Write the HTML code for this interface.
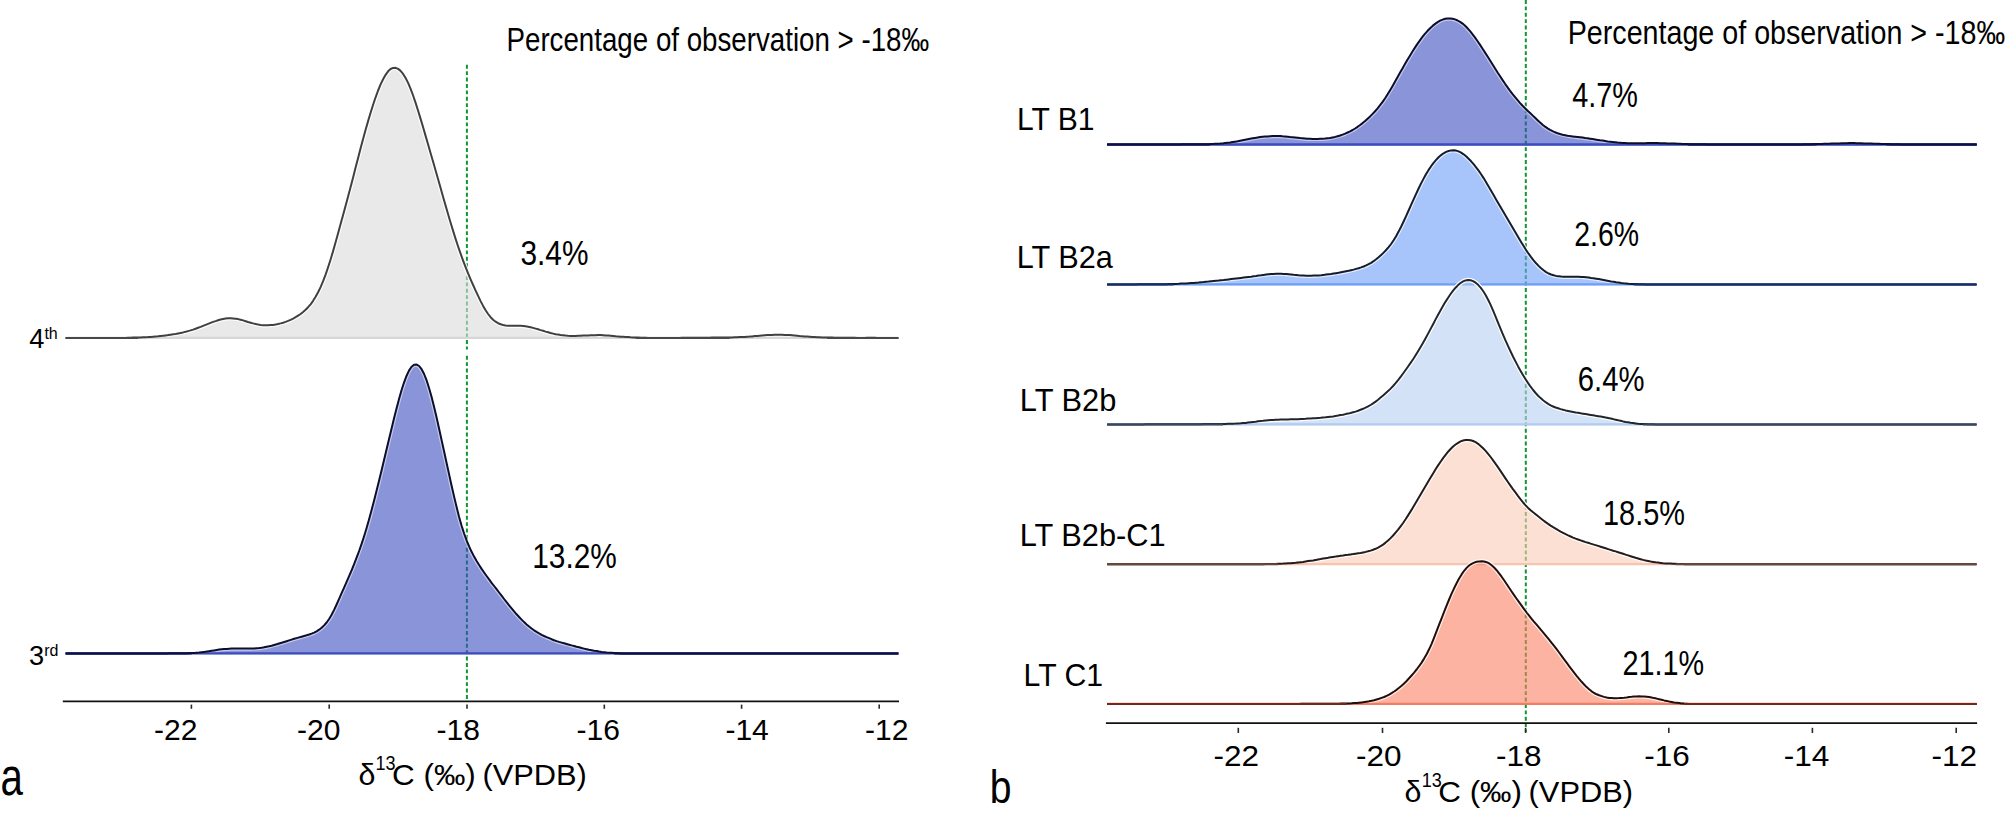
<!DOCTYPE html>
<html lang="en"><head><meta charset="utf-8"><title>Figure</title>
<style>html,body{margin:0;padding:0;background:#fff}body{width:2007px;height:814px;overflow:hidden}svg{display:block}text{font-family:"Liberation Sans",Arial,sans-serif;fill:#000}</style></head><body>
<svg width="2007" height="814" viewBox="0 0 2007 814">
<rect width="2007" height="814" fill="#fff"/>
<line x1="466.9" y1="64.8" x2="466.9" y2="349.6" stroke="#0e962f" stroke-width="2.0" stroke-dasharray="3.9,2.5"/>
<line x1="466.9" y1="355.8" x2="466.9" y2="701" stroke="#0e962f" stroke-width="2.0" stroke-dasharray="3.9,2.5"/>
<line x1="1525.8" y1="0" x2="1525.8" y2="732" stroke="#0e962f" stroke-width="2.0" stroke-dasharray="3.9,2.5"/>
<g id="c4">
<path d="M65.6,337.9L77.6,337.9L89.6,337.9L101.6,337.9L113.6,337.9L125.6,337.9L128.1,337.8L130.6,337.7L133.1,337.6L135.6,337.6L138.1,337.5L140.6,337.4L143.1,337.3L145.6,337.2L148.1,337.1L150.6,336.9L153.1,336.7L155.6,336.5L158.1,336.3L160.6,336.0L163.1,335.7L165.6,335.4L168.1,335.1L170.6,334.7L173.1,334.3L175.6,333.9L178.1,333.4L180.6,332.9L183.1,332.4L185.6,331.8L188.1,331.1L190.6,330.4L193.1,329.6L195.6,328.7L198.1,327.8L200.6,326.9L203.1,325.9L205.6,324.9L208.1,323.9L210.6,322.9L213.1,321.9L215.6,321.1L218.1,320.2L220.6,319.5L223.1,319.0L225.6,318.6L228.1,318.3L230.6,318.3L233.1,318.4L235.6,318.7L238.1,319.1L240.6,319.7L243.1,320.4L245.6,321.2L248.1,322.0L250.6,322.7L253.1,323.4L255.6,324.0L258.1,324.5L260.6,324.9L263.1,325.2L265.6,325.3L268.1,325.3L270.6,325.1L273.1,324.9L275.6,324.5L278.1,324.0L280.6,323.4L283.1,322.7L285.6,321.9L288.1,320.9L290.6,319.8L293.1,318.6L295.6,317.2L298.1,315.7L300.6,314.0L303.1,312.0L305.6,309.8L308.1,307.2L310.6,304.3L313.1,300.8L315.6,296.8L318.1,292.3L320.6,287.1L323.1,281.2L325.6,274.6L328.1,267.3L330.6,259.5L333.1,251.1L335.6,242.3L338.1,233.3L340.6,224.1L343.1,214.9L345.6,205.7L348.1,196.4L350.6,187.0L353.1,177.4L355.6,167.6L358.1,157.9L360.6,148.3L363.1,138.9L365.6,129.8L368.1,121.1L370.6,112.7L373.1,104.7L375.6,97.3L378.1,90.5L380.6,84.4L383.1,79.2L385.6,74.8L388.1,71.3L390.6,69.0L393.1,67.9L395.6,67.8L398.1,68.9L400.6,70.9L403.1,73.9L405.6,78.0L408.1,82.9L410.6,88.8L413.1,95.5L415.6,102.9L418.1,110.7L420.6,118.9L423.1,127.3L425.6,135.9L428.1,144.5L430.6,153.2L433.1,161.8L435.6,170.5L438.1,179.3L440.6,188.1L443.1,196.9L445.6,205.6L448.1,214.3L450.6,222.7L453.1,230.9L455.6,238.9L458.1,246.5L460.6,253.7L463.1,260.6L465.6,267.2L468.1,273.4L470.6,279.3L473.1,285.0L475.6,290.6L478.1,295.9L480.6,301.1L483.1,305.9L485.6,310.3L488.1,314.0L490.6,317.2L493.1,319.7L495.6,321.7L498.1,323.2L500.6,324.2L503.1,325.0L505.6,325.4L508.1,325.7L510.6,325.8L513.1,325.8L515.6,325.8L518.1,325.8L520.6,325.8L523.1,326.0L525.6,326.3L528.1,326.7L530.6,327.2L533.1,327.9L535.6,328.6L538.1,329.3L540.6,330.1L543.1,330.8L545.6,331.6L548.1,332.3L550.6,333.0L553.1,333.6L555.6,334.2L558.1,334.6L560.6,335.0L563.1,335.3L565.6,335.6L568.1,335.8L570.6,335.9L573.1,335.9L575.6,335.9L578.1,335.8L580.6,335.7L583.1,335.6L585.6,335.5L588.1,335.4L590.6,335.3L593.1,335.2L595.6,335.2L598.1,335.1L600.6,335.1L603.1,335.2L605.6,335.4L608.1,335.6L610.6,335.8L613.1,336.0L615.6,336.3L618.1,336.5L620.6,336.7L623.1,336.8L625.6,337.0L628.1,337.1L630.6,337.3L633.1,337.4L635.6,337.5L638.1,337.6L640.6,337.7L643.1,337.7L645.6,337.8L648.1,337.9L660.1,337.9L672.1,337.9L674.6,337.9L677.1,337.9L679.6,337.9L682.1,337.8L684.6,337.8L687.1,337.8L689.6,337.8L692.1,337.8L694.6,337.7L697.1,337.7L699.6,337.7L702.1,337.7L704.6,337.7L707.1,337.7L709.6,337.7L712.1,337.6L714.6,337.6L717.1,337.6L719.6,337.6L722.1,337.6L724.6,337.6L727.1,337.5L729.6,337.5L732.1,337.4L734.6,337.3L737.1,337.2L739.6,337.1L742.1,337.0L744.6,336.9L747.1,336.7L749.6,336.6L752.1,336.4L754.6,336.1L757.1,335.9L759.6,335.7L762.1,335.5L764.6,335.3L767.1,335.1L769.6,335.0L772.1,334.9L774.6,334.8L777.1,334.8L779.6,334.8L782.1,334.8L784.6,334.9L787.1,335.0L789.6,335.1L792.1,335.3L794.6,335.5L797.1,335.7L799.6,336.0L802.1,336.2L804.6,336.4L807.1,336.6L809.6,336.8L812.1,337.0L814.6,337.1L817.1,337.2L819.6,337.3L822.1,337.4L824.6,337.4L827.1,337.5L829.6,337.6L832.1,337.6L834.6,337.7L837.1,337.7L839.6,337.7L842.1,337.7L844.6,337.7L847.1,337.7L849.6,337.8L852.1,337.8L854.6,337.8L857.1,337.9L859.6,337.9L862.1,337.9L864.6,337.9L867.1,337.8L869.6,337.8L872.1,337.8L874.6,337.8L877.1,337.9L889.1,337.9L898.4,337.9L898.4,338.8L65.6,338.8Z" fill="#dadada" fill-opacity="0.60"/>
<path d="M65.6,337.9L77.6,337.9L89.6,337.9L101.6,337.9L113.6,337.9L125.6,337.9L128.1,337.8L130.6,337.7L133.1,337.6L135.6,337.6L138.1,337.5L140.6,337.4L143.1,337.3L145.6,337.2L148.1,337.1L150.6,336.9L153.1,336.7L155.6,336.5L158.1,336.3L160.6,336.0L163.1,335.7L165.6,335.4L168.1,335.1L170.6,334.7L173.1,334.3L175.6,333.9L178.1,333.4L180.6,332.9L183.1,332.4L185.6,331.8L188.1,331.1L190.6,330.4L193.1,329.6L195.6,328.7L198.1,327.8L200.6,326.9L203.1,325.9L205.6,324.9L208.1,323.9L210.6,322.9L213.1,321.9L215.6,321.1L218.1,320.2L220.6,319.5L223.1,319.0L225.6,318.6L228.1,318.3L230.6,318.3L233.1,318.4L235.6,318.7L238.1,319.1L240.6,319.7L243.1,320.4L245.6,321.2L248.1,322.0L250.6,322.7L253.1,323.4L255.6,324.0L258.1,324.5L260.6,324.9L263.1,325.2L265.6,325.3L268.1,325.3L270.6,325.1L273.1,324.9L275.6,324.5L278.1,324.0L280.6,323.4L283.1,322.7L285.6,321.9L288.1,320.9L290.6,319.8L293.1,318.6L295.6,317.2L298.1,315.7L300.6,314.0L303.1,312.0L305.6,309.8L308.1,307.2L310.6,304.3L313.1,300.8L315.6,296.8L318.1,292.3L320.6,287.1L323.1,281.2L325.6,274.6L328.1,267.3L330.6,259.5L333.1,251.1L335.6,242.3L338.1,233.3L340.6,224.1L343.1,214.9L345.6,205.7L348.1,196.4L350.6,187.0L353.1,177.4L355.6,167.6L358.1,157.9L360.6,148.3L363.1,138.9L365.6,129.8L368.1,121.1L370.6,112.7L373.1,104.7L375.6,97.3L378.1,90.5L380.6,84.4L383.1,79.2L385.6,74.8L388.1,71.3L390.6,69.0L393.1,67.9L395.6,67.8L398.1,68.9L400.6,70.9L403.1,73.9L405.6,78.0L408.1,82.9L410.6,88.8L413.1,95.5L415.6,102.9L418.1,110.7L420.6,118.9L423.1,127.3L425.6,135.9L428.1,144.5L430.6,153.2L433.1,161.8L435.6,170.5L438.1,179.3L440.6,188.1L443.1,196.9L445.6,205.6L448.1,214.3L450.6,222.7L453.1,230.9L455.6,238.9L458.1,246.5L460.6,253.7L463.1,260.6L465.6,267.2L468.1,273.4L470.6,279.3L473.1,285.0L475.6,290.6L478.1,295.9L480.6,301.1L483.1,305.9L485.6,310.3L488.1,314.0L490.6,317.2L493.1,319.7L495.6,321.7L498.1,323.2L500.6,324.2L503.1,325.0L505.6,325.4L508.1,325.7L510.6,325.8L513.1,325.8L515.6,325.8L518.1,325.8L520.6,325.8L523.1,326.0L525.6,326.3L528.1,326.7L530.6,327.2L533.1,327.9L535.6,328.6L538.1,329.3L540.6,330.1L543.1,330.8L545.6,331.6L548.1,332.3L550.6,333.0L553.1,333.6L555.6,334.2L558.1,334.6L560.6,335.0L563.1,335.3L565.6,335.6L568.1,335.8L570.6,335.9L573.1,335.9L575.6,335.9L578.1,335.8L580.6,335.7L583.1,335.6L585.6,335.5L588.1,335.4L590.6,335.3L593.1,335.2L595.6,335.2L598.1,335.1L600.6,335.1L603.1,335.2L605.6,335.4L608.1,335.6L610.6,335.8L613.1,336.0L615.6,336.3L618.1,336.5L620.6,336.7L623.1,336.8L625.6,337.0L628.1,337.1L630.6,337.3L633.1,337.4L635.6,337.5L638.1,337.6L640.6,337.7L643.1,337.7L645.6,337.8L648.1,337.9L660.1,337.9L672.1,337.9L674.6,337.9L677.1,337.9L679.6,337.9L682.1,337.8L684.6,337.8L687.1,337.8L689.6,337.8L692.1,337.8L694.6,337.7L697.1,337.7L699.6,337.7L702.1,337.7L704.6,337.7L707.1,337.7L709.6,337.7L712.1,337.6L714.6,337.6L717.1,337.6L719.6,337.6L722.1,337.6L724.6,337.6L727.1,337.5L729.6,337.5L732.1,337.4L734.6,337.3L737.1,337.2L739.6,337.1L742.1,337.0L744.6,336.9L747.1,336.7L749.6,336.6L752.1,336.4L754.6,336.1L757.1,335.9L759.6,335.7L762.1,335.5L764.6,335.3L767.1,335.1L769.6,335.0L772.1,334.9L774.6,334.8L777.1,334.8L779.6,334.8L782.1,334.8L784.6,334.9L787.1,335.0L789.6,335.1L792.1,335.3L794.6,335.5L797.1,335.7L799.6,336.0L802.1,336.2L804.6,336.4L807.1,336.6L809.6,336.8L812.1,337.0L814.6,337.1L817.1,337.2L819.6,337.3L822.1,337.4L824.6,337.4L827.1,337.5L829.6,337.6L832.1,337.6L834.6,337.7L837.1,337.7L839.6,337.7L842.1,337.7L844.6,337.7L847.1,337.7L849.6,337.8L852.1,337.8L854.6,337.8L857.1,337.9L859.6,337.9L862.1,337.9L864.6,337.9L867.1,337.8L869.6,337.8L872.1,337.8L874.6,337.8L877.1,337.9L889.1,337.9L898.4,337.9" fill="none" stroke="#fff" stroke-opacity="0.90" stroke-width="4.4" stroke-linejoin="round"/>
<line x1="65.6" y1="337.9" x2="898.4" y2="337.9" stroke="#d8d8d8" stroke-width="2.3"/>
<path d="M65.6,337.9L77.6,337.9L89.6,337.9L101.6,337.9L113.6,337.9L125.6,337.9L128.1,337.8L130.6,337.7L133.1,337.6L135.6,337.6L138.1,337.5L140.6,337.4L143.1,337.3L145.6,337.2L148.1,337.1L150.6,336.9L153.1,336.7L155.6,336.5L158.1,336.3L160.6,336.0L163.1,335.7L165.6,335.4L168.1,335.1L170.6,334.7L173.1,334.3L175.6,333.9L178.1,333.4L180.6,332.9L183.1,332.4L185.6,331.8L188.1,331.1L190.6,330.4L193.1,329.6L195.6,328.7L198.1,327.8L200.6,326.9L203.1,325.9L205.6,324.9L208.1,323.9L210.6,322.9L213.1,321.9L215.6,321.1L218.1,320.2L220.6,319.5L223.1,319.0L225.6,318.6L228.1,318.3L230.6,318.3L233.1,318.4L235.6,318.7L238.1,319.1L240.6,319.7L243.1,320.4L245.6,321.2L248.1,322.0L250.6,322.7L253.1,323.4L255.6,324.0L258.1,324.5L260.6,324.9L263.1,325.2L265.6,325.3L268.1,325.3L270.6,325.1L273.1,324.9L275.6,324.5L278.1,324.0L280.6,323.4L283.1,322.7L285.6,321.9L288.1,320.9L290.6,319.8L293.1,318.6L295.6,317.2L298.1,315.7L300.6,314.0L303.1,312.0L305.6,309.8L308.1,307.2L310.6,304.3L313.1,300.8L315.6,296.8L318.1,292.3L320.6,287.1L323.1,281.2L325.6,274.6L328.1,267.3L330.6,259.5L333.1,251.1L335.6,242.3L338.1,233.3L340.6,224.1L343.1,214.9L345.6,205.7L348.1,196.4L350.6,187.0L353.1,177.4L355.6,167.6L358.1,157.9L360.6,148.3L363.1,138.9L365.6,129.8L368.1,121.1L370.6,112.7L373.1,104.7L375.6,97.3L378.1,90.5L380.6,84.4L383.1,79.2L385.6,74.8L388.1,71.3L390.6,69.0L393.1,67.9L395.6,67.8L398.1,68.9L400.6,70.9L403.1,73.9L405.6,78.0L408.1,82.9L410.6,88.8L413.1,95.5L415.6,102.9L418.1,110.7L420.6,118.9L423.1,127.3L425.6,135.9L428.1,144.5L430.6,153.2L433.1,161.8L435.6,170.5L438.1,179.3L440.6,188.1L443.1,196.9L445.6,205.6L448.1,214.3L450.6,222.7L453.1,230.9L455.6,238.9L458.1,246.5L460.6,253.7L463.1,260.6L465.6,267.2L468.1,273.4L470.6,279.3L473.1,285.0L475.6,290.6L478.1,295.9L480.6,301.1L483.1,305.9L485.6,310.3L488.1,314.0L490.6,317.2L493.1,319.7L495.6,321.7L498.1,323.2L500.6,324.2L503.1,325.0L505.6,325.4L508.1,325.7L510.6,325.8L513.1,325.8L515.6,325.8L518.1,325.8L520.6,325.8L523.1,326.0L525.6,326.3L528.1,326.7L530.6,327.2L533.1,327.9L535.6,328.6L538.1,329.3L540.6,330.1L543.1,330.8L545.6,331.6L548.1,332.3L550.6,333.0L553.1,333.6L555.6,334.2L558.1,334.6L560.6,335.0L563.1,335.3L565.6,335.6L568.1,335.8L570.6,335.9L573.1,335.9L575.6,335.9L578.1,335.8L580.6,335.7L583.1,335.6L585.6,335.5L588.1,335.4L590.6,335.3L593.1,335.2L595.6,335.2L598.1,335.1L600.6,335.1L603.1,335.2L605.6,335.4L608.1,335.6L610.6,335.8L613.1,336.0L615.6,336.3L618.1,336.5L620.6,336.7L623.1,336.8L625.6,337.0L628.1,337.1L630.6,337.3L633.1,337.4L635.6,337.5L638.1,337.6L640.6,337.7L643.1,337.7L645.6,337.8L648.1,337.9L660.1,337.9L672.1,337.9L674.6,337.9L677.1,337.9L679.6,337.9L682.1,337.8L684.6,337.8L687.1,337.8L689.6,337.8L692.1,337.8L694.6,337.7L697.1,337.7L699.6,337.7L702.1,337.7L704.6,337.7L707.1,337.7L709.6,337.7L712.1,337.6L714.6,337.6L717.1,337.6L719.6,337.6L722.1,337.6L724.6,337.6L727.1,337.5L729.6,337.5L732.1,337.4L734.6,337.3L737.1,337.2L739.6,337.1L742.1,337.0L744.6,336.9L747.1,336.7L749.6,336.6L752.1,336.4L754.6,336.1L757.1,335.9L759.6,335.7L762.1,335.5L764.6,335.3L767.1,335.1L769.6,335.0L772.1,334.9L774.6,334.8L777.1,334.8L779.6,334.8L782.1,334.8L784.6,334.9L787.1,335.0L789.6,335.1L792.1,335.3L794.6,335.5L797.1,335.7L799.6,336.0L802.1,336.2L804.6,336.4L807.1,336.6L809.6,336.8L812.1,337.0L814.6,337.1L817.1,337.2L819.6,337.3L822.1,337.4L824.6,337.4L827.1,337.5L829.6,337.6L832.1,337.6L834.6,337.7L837.1,337.7L839.6,337.7L842.1,337.7L844.6,337.7L847.1,337.7L849.6,337.8L852.1,337.8L854.6,337.8L857.1,337.9L859.6,337.9L862.1,337.9L864.6,337.9L867.1,337.8L869.6,337.8L872.1,337.8L874.6,337.8L877.1,337.9L889.1,337.9L898.4,337.9" fill="none" stroke="#404040" stroke-width="2.0" stroke-linejoin="round"/>
<line x1="65.6" y1="337.9" x2="138.1" y2="337.9" stroke="#484848" stroke-width="2.0"/>
<line x1="635.6" y1="337.9" x2="729.6" y2="337.9" stroke="#484848" stroke-width="2.0"/>
<line x1="827.1" y1="337.9" x2="898.4" y2="337.9" stroke="#484848" stroke-width="2.0"/>
</g>
<g id="c3">
<path d="M65.6,653.4L77.6,653.4L89.6,653.4L101.6,653.4L113.6,653.4L125.6,653.4L137.6,653.4L149.6,653.4L161.6,653.4L164.1,653.4L166.6,653.4L169.1,653.3L171.6,653.3L174.1,653.3L176.6,653.3L179.1,653.2L181.6,653.2L184.1,653.2L186.6,653.2L189.1,653.1L191.6,653.0L194.1,652.9L196.6,652.7L199.1,652.5L201.6,652.2L204.1,651.9L206.6,651.6L209.1,651.2L211.6,650.8L214.1,650.4L216.6,650.0L219.1,649.6L221.6,649.3L224.1,649.1L226.6,648.9L229.1,648.7L231.6,648.6L234.1,648.6L236.6,648.6L239.1,648.6L241.6,648.6L244.1,648.6L246.6,648.6L249.1,648.6L251.6,648.5L254.1,648.4L256.6,648.2L259.1,648.0L261.6,647.7L264.1,647.3L266.6,646.8L269.1,646.3L271.6,645.7L274.1,645.0L276.6,644.3L279.1,643.5L281.6,642.8L284.1,642.0L286.6,641.2L289.1,640.4L291.6,639.6L294.1,638.8L296.6,638.1L299.1,637.4L301.6,636.7L304.1,636.0L306.6,635.3L309.1,634.5L311.6,633.6L314.1,632.6L316.6,631.3L319.1,629.7L321.6,627.8L324.1,625.4L326.6,622.5L329.1,619.0L331.6,614.8L334.1,609.9L336.6,604.5L339.1,598.9L341.6,593.2L344.1,587.6L346.6,581.9L349.1,576.2L351.6,570.3L354.1,564.1L356.6,557.7L359.1,551.0L361.6,543.8L364.1,536.2L366.6,528.0L369.1,519.3L371.6,510.1L374.1,500.5L376.6,490.6L379.1,480.5L381.6,470.2L384.1,459.8L386.6,449.3L389.1,438.8L391.6,428.4L394.1,418.1L396.6,408.2L399.1,398.8L401.6,390.0L404.1,382.3L406.6,375.7L409.1,370.4L411.6,366.7L414.1,364.8L416.6,364.5L419.1,366.0L421.6,369.2L424.1,374.0L426.6,380.4L429.1,388.2L431.6,397.1L434.1,407.0L436.6,417.6L439.1,428.7L441.6,440.1L444.1,451.5L446.6,463.0L449.1,474.4L451.6,485.7L454.1,496.6L456.6,507.1L459.1,516.9L461.6,525.7L464.1,533.5L466.6,540.4L469.1,546.4L471.6,551.8L474.1,556.6L476.6,561.0L479.1,565.0L481.6,568.9L484.1,572.5L486.6,576.0L489.1,579.4L491.6,582.8L494.1,586.0L496.6,589.2L499.1,592.5L501.6,595.7L504.1,599.0L506.6,602.2L509.1,605.3L511.6,608.4L514.1,611.4L516.6,614.3L519.1,617.0L521.6,619.6L524.1,622.1L526.6,624.4L529.1,626.5L531.6,628.5L534.1,630.3L536.6,631.9L539.1,633.4L541.6,634.8L544.1,636.0L546.6,637.1L549.1,638.1L551.6,639.2L554.1,640.2L556.6,641.1L559.1,641.9L561.6,642.6L564.1,643.3L566.6,644.0L569.1,644.7L571.6,645.4L574.1,646.0L576.6,646.7L579.1,647.3L581.6,648.0L584.1,648.6L586.6,649.2L589.1,649.8L591.6,650.2L594.1,650.7L596.6,651.1L599.1,651.6L601.6,652.0L604.1,652.3L606.6,652.6L609.1,652.7L611.6,652.8L614.1,653.0L616.6,653.1L619.1,653.2L621.6,653.4L633.6,653.4L645.6,653.4L657.6,653.4L669.6,653.4L681.6,653.4L693.6,653.4L705.6,653.4L717.6,653.4L729.6,653.4L741.6,653.4L753.6,653.4L765.6,653.4L777.6,653.4L789.6,653.4L801.6,653.4L813.6,653.4L825.6,653.4L837.6,653.4L849.6,653.4L861.6,653.4L873.6,653.4L885.6,653.4L897.6,653.4L898.4,653.4L898.4,654.3L65.6,654.3Z" fill="#3b4cc0" fill-opacity="0.60"/>
<path d="M65.6,653.4L77.6,653.4L89.6,653.4L101.6,653.4L113.6,653.4L125.6,653.4L137.6,653.4L149.6,653.4L161.6,653.4L164.1,653.4L166.6,653.4L169.1,653.3L171.6,653.3L174.1,653.3L176.6,653.3L179.1,653.2L181.6,653.2L184.1,653.2L186.6,653.2L189.1,653.1L191.6,653.0L194.1,652.9L196.6,652.7L199.1,652.5L201.6,652.2L204.1,651.9L206.6,651.6L209.1,651.2L211.6,650.8L214.1,650.4L216.6,650.0L219.1,649.6L221.6,649.3L224.1,649.1L226.6,648.9L229.1,648.7L231.6,648.6L234.1,648.6L236.6,648.6L239.1,648.6L241.6,648.6L244.1,648.6L246.6,648.6L249.1,648.6L251.6,648.5L254.1,648.4L256.6,648.2L259.1,648.0L261.6,647.7L264.1,647.3L266.6,646.8L269.1,646.3L271.6,645.7L274.1,645.0L276.6,644.3L279.1,643.5L281.6,642.8L284.1,642.0L286.6,641.2L289.1,640.4L291.6,639.6L294.1,638.8L296.6,638.1L299.1,637.4L301.6,636.7L304.1,636.0L306.6,635.3L309.1,634.5L311.6,633.6L314.1,632.6L316.6,631.3L319.1,629.7L321.6,627.8L324.1,625.4L326.6,622.5L329.1,619.0L331.6,614.8L334.1,609.9L336.6,604.5L339.1,598.9L341.6,593.2L344.1,587.6L346.6,581.9L349.1,576.2L351.6,570.3L354.1,564.1L356.6,557.7L359.1,551.0L361.6,543.8L364.1,536.2L366.6,528.0L369.1,519.3L371.6,510.1L374.1,500.5L376.6,490.6L379.1,480.5L381.6,470.2L384.1,459.8L386.6,449.3L389.1,438.8L391.6,428.4L394.1,418.1L396.6,408.2L399.1,398.8L401.6,390.0L404.1,382.3L406.6,375.7L409.1,370.4L411.6,366.7L414.1,364.8L416.6,364.5L419.1,366.0L421.6,369.2L424.1,374.0L426.6,380.4L429.1,388.2L431.6,397.1L434.1,407.0L436.6,417.6L439.1,428.7L441.6,440.1L444.1,451.5L446.6,463.0L449.1,474.4L451.6,485.7L454.1,496.6L456.6,507.1L459.1,516.9L461.6,525.7L464.1,533.5L466.6,540.4L469.1,546.4L471.6,551.8L474.1,556.6L476.6,561.0L479.1,565.0L481.6,568.9L484.1,572.5L486.6,576.0L489.1,579.4L491.6,582.8L494.1,586.0L496.6,589.2L499.1,592.5L501.6,595.7L504.1,599.0L506.6,602.2L509.1,605.3L511.6,608.4L514.1,611.4L516.6,614.3L519.1,617.0L521.6,619.6L524.1,622.1L526.6,624.4L529.1,626.5L531.6,628.5L534.1,630.3L536.6,631.9L539.1,633.4L541.6,634.8L544.1,636.0L546.6,637.1L549.1,638.1L551.6,639.2L554.1,640.2L556.6,641.1L559.1,641.9L561.6,642.6L564.1,643.3L566.6,644.0L569.1,644.7L571.6,645.4L574.1,646.0L576.6,646.7L579.1,647.3L581.6,648.0L584.1,648.6L586.6,649.2L589.1,649.8L591.6,650.2L594.1,650.7L596.6,651.1L599.1,651.6L601.6,652.0L604.1,652.3L606.6,652.6L609.1,652.7L611.6,652.8L614.1,653.0L616.6,653.1L619.1,653.2L621.6,653.4L633.6,653.4L645.6,653.4L657.6,653.4L669.6,653.4L681.6,653.4L693.6,653.4L705.6,653.4L717.6,653.4L729.6,653.4L741.6,653.4L753.6,653.4L765.6,653.4L777.6,653.4L789.6,653.4L801.6,653.4L813.6,653.4L825.6,653.4L837.6,653.4L849.6,653.4L861.6,653.4L873.6,653.4L885.6,653.4L897.6,653.4L898.4,653.4" fill="none" stroke="#fff" stroke-opacity="0.50" stroke-width="4.4" stroke-linejoin="round"/>
<line x1="65.6" y1="653.4" x2="898.4" y2="653.4" stroke="#3b4cc0" stroke-width="2.3"/>
<path d="M65.6,653.4L77.6,653.4L89.6,653.4L101.6,653.4L113.6,653.4L125.6,653.4L137.6,653.4L149.6,653.4L161.6,653.4L164.1,653.4L166.6,653.4L169.1,653.3L171.6,653.3L174.1,653.3L176.6,653.3L179.1,653.2L181.6,653.2L184.1,653.2L186.6,653.2L189.1,653.1L191.6,653.0L194.1,652.9L196.6,652.7L199.1,652.5L201.6,652.2L204.1,651.9L206.6,651.6L209.1,651.2L211.6,650.8L214.1,650.4L216.6,650.0L219.1,649.6L221.6,649.3L224.1,649.1L226.6,648.9L229.1,648.7L231.6,648.6L234.1,648.6L236.6,648.6L239.1,648.6L241.6,648.6L244.1,648.6L246.6,648.6L249.1,648.6L251.6,648.5L254.1,648.4L256.6,648.2L259.1,648.0L261.6,647.7L264.1,647.3L266.6,646.8L269.1,646.3L271.6,645.7L274.1,645.0L276.6,644.3L279.1,643.5L281.6,642.8L284.1,642.0L286.6,641.2L289.1,640.4L291.6,639.6L294.1,638.8L296.6,638.1L299.1,637.4L301.6,636.7L304.1,636.0L306.6,635.3L309.1,634.5L311.6,633.6L314.1,632.6L316.6,631.3L319.1,629.7L321.6,627.8L324.1,625.4L326.6,622.5L329.1,619.0L331.6,614.8L334.1,609.9L336.6,604.5L339.1,598.9L341.6,593.2L344.1,587.6L346.6,581.9L349.1,576.2L351.6,570.3L354.1,564.1L356.6,557.7L359.1,551.0L361.6,543.8L364.1,536.2L366.6,528.0L369.1,519.3L371.6,510.1L374.1,500.5L376.6,490.6L379.1,480.5L381.6,470.2L384.1,459.8L386.6,449.3L389.1,438.8L391.6,428.4L394.1,418.1L396.6,408.2L399.1,398.8L401.6,390.0L404.1,382.3L406.6,375.7L409.1,370.4L411.6,366.7L414.1,364.8L416.6,364.5L419.1,366.0L421.6,369.2L424.1,374.0L426.6,380.4L429.1,388.2L431.6,397.1L434.1,407.0L436.6,417.6L439.1,428.7L441.6,440.1L444.1,451.5L446.6,463.0L449.1,474.4L451.6,485.7L454.1,496.6L456.6,507.1L459.1,516.9L461.6,525.7L464.1,533.5L466.6,540.4L469.1,546.4L471.6,551.8L474.1,556.6L476.6,561.0L479.1,565.0L481.6,568.9L484.1,572.5L486.6,576.0L489.1,579.4L491.6,582.8L494.1,586.0L496.6,589.2L499.1,592.5L501.6,595.7L504.1,599.0L506.6,602.2L509.1,605.3L511.6,608.4L514.1,611.4L516.6,614.3L519.1,617.0L521.6,619.6L524.1,622.1L526.6,624.4L529.1,626.5L531.6,628.5L534.1,630.3L536.6,631.9L539.1,633.4L541.6,634.8L544.1,636.0L546.6,637.1L549.1,638.1L551.6,639.2L554.1,640.2L556.6,641.1L559.1,641.9L561.6,642.6L564.1,643.3L566.6,644.0L569.1,644.7L571.6,645.4L574.1,646.0L576.6,646.7L579.1,647.3L581.6,648.0L584.1,648.6L586.6,649.2L589.1,649.8L591.6,650.2L594.1,650.7L596.6,651.1L599.1,651.6L601.6,652.0L604.1,652.3L606.6,652.6L609.1,652.7L611.6,652.8L614.1,653.0L616.6,653.1L619.1,653.2L621.6,653.4L633.6,653.4L645.6,653.4L657.6,653.4L669.6,653.4L681.6,653.4L693.6,653.4L705.6,653.4L717.6,653.4L729.6,653.4L741.6,653.4L753.6,653.4L765.6,653.4L777.6,653.4L789.6,653.4L801.6,653.4L813.6,653.4L825.6,653.4L837.6,653.4L849.6,653.4L861.6,653.4L873.6,653.4L885.6,653.4L897.6,653.4L898.4,653.4" fill="none" stroke="#0c0e2a" stroke-width="2.0" stroke-linejoin="round"/>
<line x1="65.6" y1="653.4" x2="191.6" y2="653.4" stroke="#0c1048" stroke-width="2.0"/>
<line x1="614.1" y1="653.4" x2="898.4" y2="653.4" stroke="#0c1048" stroke-width="2.0"/>
</g>
<g id="b1">
<path d="M1107.1,144.5L1119.1,144.5L1131.1,144.5L1143.1,144.5L1155.1,144.5L1157.6,144.4L1160.1,144.4L1162.6,144.4L1165.1,144.4L1167.6,144.4L1170.1,144.4L1172.6,144.4L1175.1,144.4L1177.6,144.4L1180.1,144.4L1182.6,144.3L1185.1,144.3L1187.6,144.3L1190.1,144.3L1192.6,144.3L1195.1,144.3L1197.6,144.3L1200.1,144.3L1202.6,144.3L1205.1,144.3L1207.6,144.2L1210.1,144.1L1212.6,143.9L1215.1,143.8L1217.6,143.7L1220.1,143.6L1222.6,143.4L1225.1,143.1L1227.6,142.8L1230.1,142.5L1232.6,142.1L1235.1,141.7L1237.6,141.3L1240.1,140.8L1242.6,140.3L1245.1,139.8L1247.6,139.3L1250.1,138.8L1252.6,138.3L1255.1,137.9L1257.6,137.5L1260.1,137.1L1262.6,136.8L1265.1,136.6L1267.6,136.4L1270.1,136.2L1272.6,136.1L1275.1,136.0L1277.6,136.0L1280.1,136.1L1282.6,136.3L1285.1,136.4L1287.6,136.7L1290.1,137.0L1292.6,137.2L1295.1,137.5L1297.6,137.8L1300.1,138.1L1302.6,138.3L1305.1,138.5L1307.6,138.7L1310.1,138.8L1312.6,138.9L1315.1,138.9L1317.6,138.9L1320.1,138.8L1322.6,138.7L1325.1,138.5L1327.6,138.2L1330.1,137.9L1332.6,137.4L1335.1,136.9L1337.6,136.2L1340.1,135.5L1342.6,134.6L1345.1,133.6L1347.6,132.5L1350.1,131.3L1352.6,130.0L1355.1,128.5L1357.6,126.8L1360.1,125.0L1362.6,123.1L1365.1,121.0L1367.6,118.7L1370.1,116.4L1372.6,113.9L1375.1,111.2L1377.6,108.4L1380.1,105.2L1382.6,101.9L1385.1,98.2L1387.6,94.3L1390.1,90.2L1392.6,85.9L1395.1,81.5L1397.6,77.1L1400.1,72.6L1402.6,68.2L1405.1,63.8L1407.6,59.6L1410.1,55.4L1412.6,51.3L1415.1,47.4L1417.6,43.6L1420.1,40.1L1422.6,36.7L1425.1,33.6L1427.6,30.8L1430.1,28.2L1432.6,25.9L1435.1,23.9L1437.6,22.1L1440.1,20.7L1442.6,19.6L1445.1,18.8L1447.6,18.5L1450.1,18.4L1452.6,18.8L1455.1,19.4L1457.6,20.5L1460.1,21.9L1462.6,23.6L1465.1,25.8L1467.6,28.3L1470.1,31.2L1472.6,34.3L1475.1,37.6L1477.6,41.2L1480.1,44.9L1482.6,48.7L1485.1,52.6L1487.6,56.5L1490.1,60.5L1492.6,64.5L1495.1,68.5L1497.6,72.5L1500.1,76.3L1502.6,80.1L1505.1,83.8L1507.6,87.3L1510.1,90.8L1512.6,94.1L1515.1,97.2L1517.6,100.2L1520.1,103.1L1522.6,105.8L1525.1,108.3L1527.6,110.7L1530.1,113.0L1532.6,115.4L1535.1,117.8L1537.6,120.2L1540.1,122.5L1542.6,124.7L1545.1,126.7L1547.6,128.4L1550.1,129.9L1552.6,131.2L1555.1,132.3L1557.6,133.2L1560.1,134.0L1562.6,134.7L1565.1,135.2L1567.6,135.7L1570.1,136.1L1572.6,136.4L1575.1,136.7L1577.6,137.0L1580.1,137.3L1582.6,137.6L1585.1,138.0L1587.6,138.3L1590.1,138.7L1592.6,139.1L1595.1,139.5L1597.6,139.9L1600.1,140.3L1602.6,140.6L1605.1,141.0L1607.6,141.4L1610.1,141.7L1612.6,142.0L1615.1,142.3L1617.6,142.6L1620.1,142.8L1622.6,143.0L1625.1,143.1L1627.6,143.2L1630.1,143.3L1632.6,143.3L1635.1,143.3L1637.6,143.3L1640.1,143.3L1642.6,143.2L1645.1,143.2L1647.6,143.1L1650.1,143.1L1652.6,143.1L1655.1,143.1L1657.6,143.1L1660.1,143.2L1662.6,143.2L1665.1,143.3L1667.6,143.4L1670.1,143.4L1672.6,143.5L1675.1,143.6L1677.6,143.7L1680.1,143.8L1682.6,143.9L1685.1,144.0L1687.6,144.1L1690.1,144.2L1692.6,144.2L1695.1,144.2L1697.6,144.2L1700.1,144.3L1702.6,144.3L1705.1,144.3L1707.6,144.4L1710.1,144.4L1712.6,144.5L1724.6,144.5L1736.6,144.5L1748.6,144.5L1760.6,144.5L1772.6,144.5L1784.6,144.5L1796.6,144.5L1799.1,144.5L1801.6,144.4L1804.1,144.3L1806.6,144.3L1809.1,144.2L1811.6,144.2L1814.1,144.1L1816.6,144.1L1819.1,144.0L1821.6,143.9L1824.1,143.8L1826.6,143.8L1829.1,143.7L1831.6,143.6L1834.1,143.5L1836.6,143.5L1839.1,143.4L1841.6,143.3L1844.1,143.3L1846.6,143.2L1849.1,143.1L1851.6,143.1L1854.1,143.1L1856.6,143.2L1859.1,143.3L1861.6,143.3L1864.1,143.4L1866.6,143.5L1869.1,143.5L1871.6,143.6L1874.1,143.7L1876.6,143.8L1879.1,143.8L1881.6,143.9L1884.1,144.0L1886.6,144.1L1889.1,144.1L1891.6,144.2L1894.1,144.2L1896.6,144.3L1899.1,144.3L1901.6,144.4L1904.1,144.5L1916.1,144.5L1928.1,144.5L1940.1,144.5L1952.1,144.5L1964.1,144.5L1976.1,144.5L1976.7,144.5L1976.7,145.4L1107.1,145.4Z" fill="#3b4cc0" fill-opacity="0.60"/>
<path d="M1107.1,144.5L1119.1,144.5L1131.1,144.5L1143.1,144.5L1155.1,144.5L1157.6,144.4L1160.1,144.4L1162.6,144.4L1165.1,144.4L1167.6,144.4L1170.1,144.4L1172.6,144.4L1175.1,144.4L1177.6,144.4L1180.1,144.4L1182.6,144.3L1185.1,144.3L1187.6,144.3L1190.1,144.3L1192.6,144.3L1195.1,144.3L1197.6,144.3L1200.1,144.3L1202.6,144.3L1205.1,144.3L1207.6,144.2L1210.1,144.1L1212.6,143.9L1215.1,143.8L1217.6,143.7L1220.1,143.6L1222.6,143.4L1225.1,143.1L1227.6,142.8L1230.1,142.5L1232.6,142.1L1235.1,141.7L1237.6,141.3L1240.1,140.8L1242.6,140.3L1245.1,139.8L1247.6,139.3L1250.1,138.8L1252.6,138.3L1255.1,137.9L1257.6,137.5L1260.1,137.1L1262.6,136.8L1265.1,136.6L1267.6,136.4L1270.1,136.2L1272.6,136.1L1275.1,136.0L1277.6,136.0L1280.1,136.1L1282.6,136.3L1285.1,136.4L1287.6,136.7L1290.1,137.0L1292.6,137.2L1295.1,137.5L1297.6,137.8L1300.1,138.1L1302.6,138.3L1305.1,138.5L1307.6,138.7L1310.1,138.8L1312.6,138.9L1315.1,138.9L1317.6,138.9L1320.1,138.8L1322.6,138.7L1325.1,138.5L1327.6,138.2L1330.1,137.9L1332.6,137.4L1335.1,136.9L1337.6,136.2L1340.1,135.5L1342.6,134.6L1345.1,133.6L1347.6,132.5L1350.1,131.3L1352.6,130.0L1355.1,128.5L1357.6,126.8L1360.1,125.0L1362.6,123.1L1365.1,121.0L1367.6,118.7L1370.1,116.4L1372.6,113.9L1375.1,111.2L1377.6,108.4L1380.1,105.2L1382.6,101.9L1385.1,98.2L1387.6,94.3L1390.1,90.2L1392.6,85.9L1395.1,81.5L1397.6,77.1L1400.1,72.6L1402.6,68.2L1405.1,63.8L1407.6,59.6L1410.1,55.4L1412.6,51.3L1415.1,47.4L1417.6,43.6L1420.1,40.1L1422.6,36.7L1425.1,33.6L1427.6,30.8L1430.1,28.2L1432.6,25.9L1435.1,23.9L1437.6,22.1L1440.1,20.7L1442.6,19.6L1445.1,18.8L1447.6,18.5L1450.1,18.4L1452.6,18.8L1455.1,19.4L1457.6,20.5L1460.1,21.9L1462.6,23.6L1465.1,25.8L1467.6,28.3L1470.1,31.2L1472.6,34.3L1475.1,37.6L1477.6,41.2L1480.1,44.9L1482.6,48.7L1485.1,52.6L1487.6,56.5L1490.1,60.5L1492.6,64.5L1495.1,68.5L1497.6,72.5L1500.1,76.3L1502.6,80.1L1505.1,83.8L1507.6,87.3L1510.1,90.8L1512.6,94.1L1515.1,97.2L1517.6,100.2L1520.1,103.1L1522.6,105.8L1525.1,108.3L1527.6,110.7L1530.1,113.0L1532.6,115.4L1535.1,117.8L1537.6,120.2L1540.1,122.5L1542.6,124.7L1545.1,126.7L1547.6,128.4L1550.1,129.9L1552.6,131.2L1555.1,132.3L1557.6,133.2L1560.1,134.0L1562.6,134.7L1565.1,135.2L1567.6,135.7L1570.1,136.1L1572.6,136.4L1575.1,136.7L1577.6,137.0L1580.1,137.3L1582.6,137.6L1585.1,138.0L1587.6,138.3L1590.1,138.7L1592.6,139.1L1595.1,139.5L1597.6,139.9L1600.1,140.3L1602.6,140.6L1605.1,141.0L1607.6,141.4L1610.1,141.7L1612.6,142.0L1615.1,142.3L1617.6,142.6L1620.1,142.8L1622.6,143.0L1625.1,143.1L1627.6,143.2L1630.1,143.3L1632.6,143.3L1635.1,143.3L1637.6,143.3L1640.1,143.3L1642.6,143.2L1645.1,143.2L1647.6,143.1L1650.1,143.1L1652.6,143.1L1655.1,143.1L1657.6,143.1L1660.1,143.2L1662.6,143.2L1665.1,143.3L1667.6,143.4L1670.1,143.4L1672.6,143.5L1675.1,143.6L1677.6,143.7L1680.1,143.8L1682.6,143.9L1685.1,144.0L1687.6,144.1L1690.1,144.2L1692.6,144.2L1695.1,144.2L1697.6,144.2L1700.1,144.3L1702.6,144.3L1705.1,144.3L1707.6,144.4L1710.1,144.4L1712.6,144.5L1724.6,144.5L1736.6,144.5L1748.6,144.5L1760.6,144.5L1772.6,144.5L1784.6,144.5L1796.6,144.5L1799.1,144.5L1801.6,144.4L1804.1,144.3L1806.6,144.3L1809.1,144.2L1811.6,144.2L1814.1,144.1L1816.6,144.1L1819.1,144.0L1821.6,143.9L1824.1,143.8L1826.6,143.8L1829.1,143.7L1831.6,143.6L1834.1,143.5L1836.6,143.5L1839.1,143.4L1841.6,143.3L1844.1,143.3L1846.6,143.2L1849.1,143.1L1851.6,143.1L1854.1,143.1L1856.6,143.2L1859.1,143.3L1861.6,143.3L1864.1,143.4L1866.6,143.5L1869.1,143.5L1871.6,143.6L1874.1,143.7L1876.6,143.8L1879.1,143.8L1881.6,143.9L1884.1,144.0L1886.6,144.1L1889.1,144.1L1891.6,144.2L1894.1,144.2L1896.6,144.3L1899.1,144.3L1901.6,144.4L1904.1,144.5L1916.1,144.5L1928.1,144.5L1940.1,144.5L1952.1,144.5L1964.1,144.5L1976.1,144.5L1976.7,144.5" fill="none" stroke="#fff" stroke-opacity="0.50" stroke-width="4.4" stroke-linejoin="round"/>
<line x1="1107.1" y1="144.5" x2="1976.7" y2="144.5" stroke="#3b4cc0" stroke-width="2.3"/>
<path d="M1107.1,144.5L1119.1,144.5L1131.1,144.5L1143.1,144.5L1155.1,144.5L1157.6,144.4L1160.1,144.4L1162.6,144.4L1165.1,144.4L1167.6,144.4L1170.1,144.4L1172.6,144.4L1175.1,144.4L1177.6,144.4L1180.1,144.4L1182.6,144.3L1185.1,144.3L1187.6,144.3L1190.1,144.3L1192.6,144.3L1195.1,144.3L1197.6,144.3L1200.1,144.3L1202.6,144.3L1205.1,144.3L1207.6,144.2L1210.1,144.1L1212.6,143.9L1215.1,143.8L1217.6,143.7L1220.1,143.6L1222.6,143.4L1225.1,143.1L1227.6,142.8L1230.1,142.5L1232.6,142.1L1235.1,141.7L1237.6,141.3L1240.1,140.8L1242.6,140.3L1245.1,139.8L1247.6,139.3L1250.1,138.8L1252.6,138.3L1255.1,137.9L1257.6,137.5L1260.1,137.1L1262.6,136.8L1265.1,136.6L1267.6,136.4L1270.1,136.2L1272.6,136.1L1275.1,136.0L1277.6,136.0L1280.1,136.1L1282.6,136.3L1285.1,136.4L1287.6,136.7L1290.1,137.0L1292.6,137.2L1295.1,137.5L1297.6,137.8L1300.1,138.1L1302.6,138.3L1305.1,138.5L1307.6,138.7L1310.1,138.8L1312.6,138.9L1315.1,138.9L1317.6,138.9L1320.1,138.8L1322.6,138.7L1325.1,138.5L1327.6,138.2L1330.1,137.9L1332.6,137.4L1335.1,136.9L1337.6,136.2L1340.1,135.5L1342.6,134.6L1345.1,133.6L1347.6,132.5L1350.1,131.3L1352.6,130.0L1355.1,128.5L1357.6,126.8L1360.1,125.0L1362.6,123.1L1365.1,121.0L1367.6,118.7L1370.1,116.4L1372.6,113.9L1375.1,111.2L1377.6,108.4L1380.1,105.2L1382.6,101.9L1385.1,98.2L1387.6,94.3L1390.1,90.2L1392.6,85.9L1395.1,81.5L1397.6,77.1L1400.1,72.6L1402.6,68.2L1405.1,63.8L1407.6,59.6L1410.1,55.4L1412.6,51.3L1415.1,47.4L1417.6,43.6L1420.1,40.1L1422.6,36.7L1425.1,33.6L1427.6,30.8L1430.1,28.2L1432.6,25.9L1435.1,23.9L1437.6,22.1L1440.1,20.7L1442.6,19.6L1445.1,18.8L1447.6,18.5L1450.1,18.4L1452.6,18.8L1455.1,19.4L1457.6,20.5L1460.1,21.9L1462.6,23.6L1465.1,25.8L1467.6,28.3L1470.1,31.2L1472.6,34.3L1475.1,37.6L1477.6,41.2L1480.1,44.9L1482.6,48.7L1485.1,52.6L1487.6,56.5L1490.1,60.5L1492.6,64.5L1495.1,68.5L1497.6,72.5L1500.1,76.3L1502.6,80.1L1505.1,83.8L1507.6,87.3L1510.1,90.8L1512.6,94.1L1515.1,97.2L1517.6,100.2L1520.1,103.1L1522.6,105.8L1525.1,108.3L1527.6,110.7L1530.1,113.0L1532.6,115.4L1535.1,117.8L1537.6,120.2L1540.1,122.5L1542.6,124.7L1545.1,126.7L1547.6,128.4L1550.1,129.9L1552.6,131.2L1555.1,132.3L1557.6,133.2L1560.1,134.0L1562.6,134.7L1565.1,135.2L1567.6,135.7L1570.1,136.1L1572.6,136.4L1575.1,136.7L1577.6,137.0L1580.1,137.3L1582.6,137.6L1585.1,138.0L1587.6,138.3L1590.1,138.7L1592.6,139.1L1595.1,139.5L1597.6,139.9L1600.1,140.3L1602.6,140.6L1605.1,141.0L1607.6,141.4L1610.1,141.7L1612.6,142.0L1615.1,142.3L1617.6,142.6L1620.1,142.8L1622.6,143.0L1625.1,143.1L1627.6,143.2L1630.1,143.3L1632.6,143.3L1635.1,143.3L1637.6,143.3L1640.1,143.3L1642.6,143.2L1645.1,143.2L1647.6,143.1L1650.1,143.1L1652.6,143.1L1655.1,143.1L1657.6,143.1L1660.1,143.2L1662.6,143.2L1665.1,143.3L1667.6,143.4L1670.1,143.4L1672.6,143.5L1675.1,143.6L1677.6,143.7L1680.1,143.8L1682.6,143.9L1685.1,144.0L1687.6,144.1L1690.1,144.2L1692.6,144.2L1695.1,144.2L1697.6,144.2L1700.1,144.3L1702.6,144.3L1705.1,144.3L1707.6,144.4L1710.1,144.4L1712.6,144.5L1724.6,144.5L1736.6,144.5L1748.6,144.5L1760.6,144.5L1772.6,144.5L1784.6,144.5L1796.6,144.5L1799.1,144.5L1801.6,144.4L1804.1,144.3L1806.6,144.3L1809.1,144.2L1811.6,144.2L1814.1,144.1L1816.6,144.1L1819.1,144.0L1821.6,143.9L1824.1,143.8L1826.6,143.8L1829.1,143.7L1831.6,143.6L1834.1,143.5L1836.6,143.5L1839.1,143.4L1841.6,143.3L1844.1,143.3L1846.6,143.2L1849.1,143.1L1851.6,143.1L1854.1,143.1L1856.6,143.2L1859.1,143.3L1861.6,143.3L1864.1,143.4L1866.6,143.5L1869.1,143.5L1871.6,143.6L1874.1,143.7L1876.6,143.8L1879.1,143.8L1881.6,143.9L1884.1,144.0L1886.6,144.1L1889.1,144.1L1891.6,144.2L1894.1,144.2L1896.6,144.3L1899.1,144.3L1901.6,144.4L1904.1,144.5L1916.1,144.5L1928.1,144.5L1940.1,144.5L1952.1,144.5L1964.1,144.5L1976.1,144.5L1976.7,144.5" fill="none" stroke="#0c0e2a" stroke-width="2.0" stroke-linejoin="round"/>
<line x1="1107.1" y1="144.5" x2="1210.1" y2="144.5" stroke="#0c1048" stroke-width="2.0"/>
<line x1="1687.6" y1="144.5" x2="1816.6" y2="144.5" stroke="#0c1048" stroke-width="2.0"/>
<line x1="1886.6" y1="144.5" x2="1976.7" y2="144.5" stroke="#0c1048" stroke-width="2.0"/>
</g>
<g id="b2a">
<path d="M1107.1,284.4L1119.1,284.4L1131.1,284.4L1133.6,284.4L1136.1,284.4L1138.6,284.3L1141.1,284.3L1143.6,284.3L1146.1,284.3L1148.6,284.3L1151.1,284.3L1153.6,284.2L1156.1,284.2L1158.6,284.2L1161.1,284.2L1163.6,284.2L1166.1,284.2L1168.6,284.1L1171.1,284.1L1173.6,284.0L1176.1,283.9L1178.6,283.8L1181.1,283.6L1183.6,283.5L1186.1,283.4L1188.6,283.2L1191.1,283.0L1193.6,282.9L1196.1,282.7L1198.6,282.5L1201.1,282.2L1203.6,282.0L1206.1,281.7L1208.6,281.5L1211.1,281.2L1213.6,280.9L1216.1,280.7L1218.6,280.5L1221.1,280.2L1223.6,280.0L1226.1,279.7L1228.6,279.4L1231.1,279.1L1233.6,278.8L1236.1,278.5L1238.6,278.2L1241.1,277.9L1243.6,277.6L1246.1,277.3L1248.6,277.0L1251.1,276.7L1253.6,276.3L1256.1,276.0L1258.6,275.6L1261.1,275.3L1263.6,274.9L1266.1,274.6L1268.6,274.3L1271.1,274.1L1273.6,273.9L1276.1,273.8L1278.6,273.8L1281.1,273.8L1283.6,273.9L1286.1,274.0L1288.6,274.2L1291.1,274.5L1293.6,274.8L1296.1,275.0L1298.6,275.3L1301.1,275.5L1303.6,275.6L1306.1,275.7L1308.6,275.7L1311.1,275.7L1313.6,275.6L1316.1,275.5L1318.6,275.4L1321.1,275.2L1323.6,274.9L1326.1,274.6L1328.6,274.3L1331.1,274.0L1333.6,273.6L1336.1,273.2L1338.6,272.8L1341.1,272.3L1343.6,271.8L1346.1,271.3L1348.6,270.8L1351.1,270.2L1353.6,269.6L1356.1,268.9L1358.6,268.2L1361.1,267.4L1363.6,266.5L1366.1,265.4L1368.6,264.2L1371.1,262.8L1373.6,261.2L1376.1,259.3L1378.6,257.2L1381.1,255.0L1383.6,252.6L1386.1,250.0L1388.6,247.2L1391.1,244.0L1393.6,240.3L1396.1,236.2L1398.6,231.6L1401.1,226.7L1403.6,221.5L1406.1,216.1L1408.6,210.5L1411.1,204.9L1413.6,199.3L1416.1,193.9L1418.6,188.5L1421.1,183.4L1423.6,178.6L1426.1,174.0L1428.6,169.9L1431.1,166.2L1433.6,162.8L1436.1,159.9L1438.6,157.3L1441.1,155.1L1443.6,153.3L1446.1,151.9L1448.6,151.0L1451.1,150.4L1453.6,150.3L1456.1,150.6L1458.6,151.4L1461.1,152.6L1463.6,154.3L1466.1,156.3L1468.6,158.7L1471.1,161.3L1473.6,164.2L1476.1,167.3L1478.6,170.6L1481.1,174.2L1483.6,178.1L1486.1,182.2L1488.6,186.4L1491.1,190.7L1493.6,195.1L1496.1,199.4L1498.6,203.7L1501.1,208.0L1503.6,212.3L1506.1,216.5L1508.6,220.8L1511.1,225.0L1513.6,229.3L1516.1,233.5L1518.6,237.8L1521.1,242.0L1523.6,246.0L1526.1,250.0L1528.6,253.7L1531.1,257.1L1533.6,260.3L1536.1,263.3L1538.6,265.9L1541.1,268.3L1543.6,270.3L1546.1,272.1L1548.6,273.5L1551.1,274.5L1553.6,275.3L1556.1,275.9L1558.6,276.2L1561.1,276.5L1563.6,276.7L1566.1,276.8L1568.6,276.8L1571.1,276.8L1573.6,276.8L1576.1,276.8L1578.6,276.8L1581.1,276.9L1583.6,277.1L1586.1,277.3L1588.6,277.6L1591.1,278.0L1593.6,278.3L1596.1,278.7L1598.6,279.1L1601.1,279.5L1603.6,279.9L1606.1,280.4L1608.6,280.9L1611.1,281.4L1613.6,281.8L1616.1,282.3L1618.6,282.6L1621.1,283.0L1623.6,283.3L1626.1,283.5L1628.6,283.8L1631.1,283.9L1633.6,284.1L1636.1,284.1L1638.6,284.2L1641.1,284.2L1643.6,284.3L1646.1,284.4L1658.1,284.4L1670.1,284.4L1682.1,284.4L1694.1,284.4L1706.1,284.4L1718.1,284.4L1730.1,284.4L1742.1,284.4L1754.1,284.4L1766.1,284.4L1778.1,284.4L1790.1,284.4L1802.1,284.4L1814.1,284.4L1826.1,284.4L1838.1,284.4L1850.1,284.4L1862.1,284.4L1874.1,284.4L1886.1,284.4L1898.1,284.4L1910.1,284.4L1922.1,284.4L1934.1,284.4L1946.1,284.4L1958.1,284.4L1970.1,284.4L1976.6,284.4L1976.6,285.3L1107.1,285.3Z" fill="#6c9ef7" fill-opacity="0.60"/>
<path d="M1107.1,284.4L1119.1,284.4L1131.1,284.4L1133.6,284.4L1136.1,284.4L1138.6,284.3L1141.1,284.3L1143.6,284.3L1146.1,284.3L1148.6,284.3L1151.1,284.3L1153.6,284.2L1156.1,284.2L1158.6,284.2L1161.1,284.2L1163.6,284.2L1166.1,284.2L1168.6,284.1L1171.1,284.1L1173.6,284.0L1176.1,283.9L1178.6,283.8L1181.1,283.6L1183.6,283.5L1186.1,283.4L1188.6,283.2L1191.1,283.0L1193.6,282.9L1196.1,282.7L1198.6,282.5L1201.1,282.2L1203.6,282.0L1206.1,281.7L1208.6,281.5L1211.1,281.2L1213.6,280.9L1216.1,280.7L1218.6,280.5L1221.1,280.2L1223.6,280.0L1226.1,279.7L1228.6,279.4L1231.1,279.1L1233.6,278.8L1236.1,278.5L1238.6,278.2L1241.1,277.9L1243.6,277.6L1246.1,277.3L1248.6,277.0L1251.1,276.7L1253.6,276.3L1256.1,276.0L1258.6,275.6L1261.1,275.3L1263.6,274.9L1266.1,274.6L1268.6,274.3L1271.1,274.1L1273.6,273.9L1276.1,273.8L1278.6,273.8L1281.1,273.8L1283.6,273.9L1286.1,274.0L1288.6,274.2L1291.1,274.5L1293.6,274.8L1296.1,275.0L1298.6,275.3L1301.1,275.5L1303.6,275.6L1306.1,275.7L1308.6,275.7L1311.1,275.7L1313.6,275.6L1316.1,275.5L1318.6,275.4L1321.1,275.2L1323.6,274.9L1326.1,274.6L1328.6,274.3L1331.1,274.0L1333.6,273.6L1336.1,273.2L1338.6,272.8L1341.1,272.3L1343.6,271.8L1346.1,271.3L1348.6,270.8L1351.1,270.2L1353.6,269.6L1356.1,268.9L1358.6,268.2L1361.1,267.4L1363.6,266.5L1366.1,265.4L1368.6,264.2L1371.1,262.8L1373.6,261.2L1376.1,259.3L1378.6,257.2L1381.1,255.0L1383.6,252.6L1386.1,250.0L1388.6,247.2L1391.1,244.0L1393.6,240.3L1396.1,236.2L1398.6,231.6L1401.1,226.7L1403.6,221.5L1406.1,216.1L1408.6,210.5L1411.1,204.9L1413.6,199.3L1416.1,193.9L1418.6,188.5L1421.1,183.4L1423.6,178.6L1426.1,174.0L1428.6,169.9L1431.1,166.2L1433.6,162.8L1436.1,159.9L1438.6,157.3L1441.1,155.1L1443.6,153.3L1446.1,151.9L1448.6,151.0L1451.1,150.4L1453.6,150.3L1456.1,150.6L1458.6,151.4L1461.1,152.6L1463.6,154.3L1466.1,156.3L1468.6,158.7L1471.1,161.3L1473.6,164.2L1476.1,167.3L1478.6,170.6L1481.1,174.2L1483.6,178.1L1486.1,182.2L1488.6,186.4L1491.1,190.7L1493.6,195.1L1496.1,199.4L1498.6,203.7L1501.1,208.0L1503.6,212.3L1506.1,216.5L1508.6,220.8L1511.1,225.0L1513.6,229.3L1516.1,233.5L1518.6,237.8L1521.1,242.0L1523.6,246.0L1526.1,250.0L1528.6,253.7L1531.1,257.1L1533.6,260.3L1536.1,263.3L1538.6,265.9L1541.1,268.3L1543.6,270.3L1546.1,272.1L1548.6,273.5L1551.1,274.5L1553.6,275.3L1556.1,275.9L1558.6,276.2L1561.1,276.5L1563.6,276.7L1566.1,276.8L1568.6,276.8L1571.1,276.8L1573.6,276.8L1576.1,276.8L1578.6,276.8L1581.1,276.9L1583.6,277.1L1586.1,277.3L1588.6,277.6L1591.1,278.0L1593.6,278.3L1596.1,278.7L1598.6,279.1L1601.1,279.5L1603.6,279.9L1606.1,280.4L1608.6,280.9L1611.1,281.4L1613.6,281.8L1616.1,282.3L1618.6,282.6L1621.1,283.0L1623.6,283.3L1626.1,283.5L1628.6,283.8L1631.1,283.9L1633.6,284.1L1636.1,284.1L1638.6,284.2L1641.1,284.2L1643.6,284.3L1646.1,284.4L1658.1,284.4L1670.1,284.4L1682.1,284.4L1694.1,284.4L1706.1,284.4L1718.1,284.4L1730.1,284.4L1742.1,284.4L1754.1,284.4L1766.1,284.4L1778.1,284.4L1790.1,284.4L1802.1,284.4L1814.1,284.4L1826.1,284.4L1838.1,284.4L1850.1,284.4L1862.1,284.4L1874.1,284.4L1886.1,284.4L1898.1,284.4L1910.1,284.4L1922.1,284.4L1934.1,284.4L1946.1,284.4L1958.1,284.4L1970.1,284.4L1976.6,284.4" fill="none" stroke="#fff" stroke-opacity="0.70" stroke-width="4.4" stroke-linejoin="round"/>
<line x1="1107.1" y1="284.4" x2="1976.6" y2="284.4" stroke="#6c9ef7" stroke-width="2.3"/>
<path d="M1107.1,284.4L1119.1,284.4L1131.1,284.4L1133.6,284.4L1136.1,284.4L1138.6,284.3L1141.1,284.3L1143.6,284.3L1146.1,284.3L1148.6,284.3L1151.1,284.3L1153.6,284.2L1156.1,284.2L1158.6,284.2L1161.1,284.2L1163.6,284.2L1166.1,284.2L1168.6,284.1L1171.1,284.1L1173.6,284.0L1176.1,283.9L1178.6,283.8L1181.1,283.6L1183.6,283.5L1186.1,283.4L1188.6,283.2L1191.1,283.0L1193.6,282.9L1196.1,282.7L1198.6,282.5L1201.1,282.2L1203.6,282.0L1206.1,281.7L1208.6,281.5L1211.1,281.2L1213.6,280.9L1216.1,280.7L1218.6,280.5L1221.1,280.2L1223.6,280.0L1226.1,279.7L1228.6,279.4L1231.1,279.1L1233.6,278.8L1236.1,278.5L1238.6,278.2L1241.1,277.9L1243.6,277.6L1246.1,277.3L1248.6,277.0L1251.1,276.7L1253.6,276.3L1256.1,276.0L1258.6,275.6L1261.1,275.3L1263.6,274.9L1266.1,274.6L1268.6,274.3L1271.1,274.1L1273.6,273.9L1276.1,273.8L1278.6,273.8L1281.1,273.8L1283.6,273.9L1286.1,274.0L1288.6,274.2L1291.1,274.5L1293.6,274.8L1296.1,275.0L1298.6,275.3L1301.1,275.5L1303.6,275.6L1306.1,275.7L1308.6,275.7L1311.1,275.7L1313.6,275.6L1316.1,275.5L1318.6,275.4L1321.1,275.2L1323.6,274.9L1326.1,274.6L1328.6,274.3L1331.1,274.0L1333.6,273.6L1336.1,273.2L1338.6,272.8L1341.1,272.3L1343.6,271.8L1346.1,271.3L1348.6,270.8L1351.1,270.2L1353.6,269.6L1356.1,268.9L1358.6,268.2L1361.1,267.4L1363.6,266.5L1366.1,265.4L1368.6,264.2L1371.1,262.8L1373.6,261.2L1376.1,259.3L1378.6,257.2L1381.1,255.0L1383.6,252.6L1386.1,250.0L1388.6,247.2L1391.1,244.0L1393.6,240.3L1396.1,236.2L1398.6,231.6L1401.1,226.7L1403.6,221.5L1406.1,216.1L1408.6,210.5L1411.1,204.9L1413.6,199.3L1416.1,193.9L1418.6,188.5L1421.1,183.4L1423.6,178.6L1426.1,174.0L1428.6,169.9L1431.1,166.2L1433.6,162.8L1436.1,159.9L1438.6,157.3L1441.1,155.1L1443.6,153.3L1446.1,151.9L1448.6,151.0L1451.1,150.4L1453.6,150.3L1456.1,150.6L1458.6,151.4L1461.1,152.6L1463.6,154.3L1466.1,156.3L1468.6,158.7L1471.1,161.3L1473.6,164.2L1476.1,167.3L1478.6,170.6L1481.1,174.2L1483.6,178.1L1486.1,182.2L1488.6,186.4L1491.1,190.7L1493.6,195.1L1496.1,199.4L1498.6,203.7L1501.1,208.0L1503.6,212.3L1506.1,216.5L1508.6,220.8L1511.1,225.0L1513.6,229.3L1516.1,233.5L1518.6,237.8L1521.1,242.0L1523.6,246.0L1526.1,250.0L1528.6,253.7L1531.1,257.1L1533.6,260.3L1536.1,263.3L1538.6,265.9L1541.1,268.3L1543.6,270.3L1546.1,272.1L1548.6,273.5L1551.1,274.5L1553.6,275.3L1556.1,275.9L1558.6,276.2L1561.1,276.5L1563.6,276.7L1566.1,276.8L1568.6,276.8L1571.1,276.8L1573.6,276.8L1576.1,276.8L1578.6,276.8L1581.1,276.9L1583.6,277.1L1586.1,277.3L1588.6,277.6L1591.1,278.0L1593.6,278.3L1596.1,278.7L1598.6,279.1L1601.1,279.5L1603.6,279.9L1606.1,280.4L1608.6,280.9L1611.1,281.4L1613.6,281.8L1616.1,282.3L1618.6,282.6L1621.1,283.0L1623.6,283.3L1626.1,283.5L1628.6,283.8L1631.1,283.9L1633.6,284.1L1636.1,284.1L1638.6,284.2L1641.1,284.2L1643.6,284.3L1646.1,284.4L1658.1,284.4L1670.1,284.4L1682.1,284.4L1694.1,284.4L1706.1,284.4L1718.1,284.4L1730.1,284.4L1742.1,284.4L1754.1,284.4L1766.1,284.4L1778.1,284.4L1790.1,284.4L1802.1,284.4L1814.1,284.4L1826.1,284.4L1838.1,284.4L1850.1,284.4L1862.1,284.4L1874.1,284.4L1886.1,284.4L1898.1,284.4L1910.1,284.4L1922.1,284.4L1934.1,284.4L1946.1,284.4L1958.1,284.4L1970.1,284.4L1976.6,284.4" fill="none" stroke="#161c2c" stroke-width="2.0" stroke-linejoin="round"/>
<line x1="1107.1" y1="284.4" x2="1173.6" y2="284.4" stroke="#182c68" stroke-width="2.0"/>
<line x1="1633.6" y1="284.4" x2="1976.6" y2="284.4" stroke="#182c68" stroke-width="2.0"/>
</g>
<g id="b2b">
<path d="M1107.1,424.4L1119.1,424.4L1131.1,424.4L1143.1,424.4L1145.6,424.3L1148.1,424.3L1150.6,424.3L1153.1,424.3L1155.6,424.3L1158.1,424.3L1160.6,424.3L1163.1,424.3L1165.6,424.2L1168.1,424.2L1170.6,424.2L1173.1,424.2L1175.6,424.2L1178.1,424.2L1180.6,424.2L1183.1,424.2L1185.6,424.2L1188.1,424.2L1190.6,424.2L1193.1,424.2L1195.6,424.2L1198.1,424.2L1200.6,424.2L1203.1,424.1L1205.6,424.1L1208.1,424.1L1210.6,424.1L1213.1,424.1L1215.6,424.1L1218.1,424.1L1220.6,424.1L1223.1,424.0L1225.6,423.9L1228.1,423.8L1230.6,423.7L1233.1,423.7L1235.6,423.6L1238.1,423.4L1240.6,423.3L1243.1,423.1L1245.6,422.9L1248.1,422.6L1250.6,422.3L1253.1,422.0L1255.6,421.7L1258.1,421.3L1260.6,421.0L1263.1,420.8L1265.6,420.5L1268.1,420.3L1270.6,420.1L1273.1,419.9L1275.6,419.8L1278.1,419.7L1280.6,419.6L1283.1,419.5L1285.6,419.4L1288.1,419.4L1290.6,419.3L1293.1,419.3L1295.6,419.2L1298.1,419.2L1300.6,419.0L1303.1,418.9L1305.6,418.8L1308.1,418.6L1310.6,418.5L1313.1,418.3L1315.6,418.2L1318.1,418.0L1320.6,417.8L1323.1,417.5L1325.6,417.3L1328.1,417.0L1330.6,416.7L1333.1,416.4L1335.6,416.0L1338.1,415.6L1340.6,415.1L1343.1,414.7L1345.6,414.1L1348.1,413.6L1350.6,413.0L1353.1,412.3L1355.6,411.6L1358.1,410.8L1360.6,409.8L1363.1,408.8L1365.6,407.7L1368.1,406.4L1370.6,405.0L1373.1,403.4L1375.6,401.6L1378.1,399.7L1380.6,397.6L1383.1,395.5L1385.6,393.3L1388.1,391.0L1390.6,388.6L1393.1,386.0L1395.6,383.2L1398.1,380.2L1400.6,376.9L1403.1,373.5L1405.6,370.0L1408.1,366.5L1410.6,362.9L1413.1,359.2L1415.6,355.3L1418.1,351.3L1420.6,347.1L1423.1,342.8L1425.6,338.3L1428.1,333.6L1430.6,328.9L1433.1,324.2L1435.6,319.4L1438.1,314.8L1440.6,310.2L1443.1,305.8L1445.6,301.6L1448.1,297.7L1450.6,294.0L1453.1,290.7L1455.6,287.7L1458.1,285.1L1460.6,283.0L1463.1,281.4L1465.6,280.4L1468.1,280.0L1470.6,280.3L1473.1,281.1L1475.6,282.7L1478.1,284.8L1480.6,287.6L1483.1,291.0L1485.6,295.0L1488.1,299.7L1490.6,304.9L1493.1,310.6L1495.6,316.6L1498.1,322.8L1500.6,328.9L1503.1,334.9L1505.6,340.6L1508.1,346.2L1510.6,351.5L1513.1,356.7L1515.6,361.6L1518.1,366.4L1520.6,370.9L1523.1,375.2L1525.6,379.3L1528.1,383.1L1530.6,386.7L1533.1,390.0L1535.6,393.0L1538.1,395.7L1540.6,398.1L1543.1,400.3L1545.6,402.2L1548.1,403.9L1550.6,405.3L1553.1,406.5L1555.6,407.5L1558.1,408.3L1560.6,409.1L1563.1,409.8L1565.6,410.4L1568.1,410.9L1570.6,411.4L1573.1,411.9L1575.6,412.4L1578.1,412.8L1580.6,413.3L1583.1,413.7L1585.6,414.1L1588.1,414.5L1590.6,414.9L1593.1,415.3L1595.6,415.8L1598.1,416.2L1600.6,416.6L1603.1,417.1L1605.6,417.6L1608.1,418.1L1610.6,418.6L1613.1,419.1L1615.6,419.7L1618.1,420.3L1620.6,420.8L1623.1,421.4L1625.6,421.9L1628.1,422.3L1630.6,422.8L1633.1,423.1L1635.6,423.4L1638.1,423.7L1640.6,423.9L1643.1,424.0L1645.6,424.1L1648.1,424.2L1650.6,424.2L1653.1,424.3L1655.6,424.4L1667.6,424.4L1679.6,424.4L1691.6,424.4L1703.6,424.4L1715.6,424.4L1727.6,424.4L1739.6,424.4L1751.6,424.4L1763.6,424.4L1775.6,424.4L1787.6,424.4L1799.6,424.4L1811.6,424.4L1823.6,424.4L1835.6,424.4L1847.6,424.4L1859.6,424.4L1871.6,424.4L1883.6,424.4L1895.6,424.4L1907.6,424.4L1919.6,424.4L1931.6,424.4L1943.6,424.4L1955.6,424.4L1967.6,424.4L1976.6,424.4L1976.6,425.3L1107.1,425.3Z" fill="#b6cff0" fill-opacity="0.60"/>
<path d="M1107.1,424.4L1119.1,424.4L1131.1,424.4L1143.1,424.4L1145.6,424.3L1148.1,424.3L1150.6,424.3L1153.1,424.3L1155.6,424.3L1158.1,424.3L1160.6,424.3L1163.1,424.3L1165.6,424.2L1168.1,424.2L1170.6,424.2L1173.1,424.2L1175.6,424.2L1178.1,424.2L1180.6,424.2L1183.1,424.2L1185.6,424.2L1188.1,424.2L1190.6,424.2L1193.1,424.2L1195.6,424.2L1198.1,424.2L1200.6,424.2L1203.1,424.1L1205.6,424.1L1208.1,424.1L1210.6,424.1L1213.1,424.1L1215.6,424.1L1218.1,424.1L1220.6,424.1L1223.1,424.0L1225.6,423.9L1228.1,423.8L1230.6,423.7L1233.1,423.7L1235.6,423.6L1238.1,423.4L1240.6,423.3L1243.1,423.1L1245.6,422.9L1248.1,422.6L1250.6,422.3L1253.1,422.0L1255.6,421.7L1258.1,421.3L1260.6,421.0L1263.1,420.8L1265.6,420.5L1268.1,420.3L1270.6,420.1L1273.1,419.9L1275.6,419.8L1278.1,419.7L1280.6,419.6L1283.1,419.5L1285.6,419.4L1288.1,419.4L1290.6,419.3L1293.1,419.3L1295.6,419.2L1298.1,419.2L1300.6,419.0L1303.1,418.9L1305.6,418.8L1308.1,418.6L1310.6,418.5L1313.1,418.3L1315.6,418.2L1318.1,418.0L1320.6,417.8L1323.1,417.5L1325.6,417.3L1328.1,417.0L1330.6,416.7L1333.1,416.4L1335.6,416.0L1338.1,415.6L1340.6,415.1L1343.1,414.7L1345.6,414.1L1348.1,413.6L1350.6,413.0L1353.1,412.3L1355.6,411.6L1358.1,410.8L1360.6,409.8L1363.1,408.8L1365.6,407.7L1368.1,406.4L1370.6,405.0L1373.1,403.4L1375.6,401.6L1378.1,399.7L1380.6,397.6L1383.1,395.5L1385.6,393.3L1388.1,391.0L1390.6,388.6L1393.1,386.0L1395.6,383.2L1398.1,380.2L1400.6,376.9L1403.1,373.5L1405.6,370.0L1408.1,366.5L1410.6,362.9L1413.1,359.2L1415.6,355.3L1418.1,351.3L1420.6,347.1L1423.1,342.8L1425.6,338.3L1428.1,333.6L1430.6,328.9L1433.1,324.2L1435.6,319.4L1438.1,314.8L1440.6,310.2L1443.1,305.8L1445.6,301.6L1448.1,297.7L1450.6,294.0L1453.1,290.7L1455.6,287.7L1458.1,285.1L1460.6,283.0L1463.1,281.4L1465.6,280.4L1468.1,280.0L1470.6,280.3L1473.1,281.1L1475.6,282.7L1478.1,284.8L1480.6,287.6L1483.1,291.0L1485.6,295.0L1488.1,299.7L1490.6,304.9L1493.1,310.6L1495.6,316.6L1498.1,322.8L1500.6,328.9L1503.1,334.9L1505.6,340.6L1508.1,346.2L1510.6,351.5L1513.1,356.7L1515.6,361.6L1518.1,366.4L1520.6,370.9L1523.1,375.2L1525.6,379.3L1528.1,383.1L1530.6,386.7L1533.1,390.0L1535.6,393.0L1538.1,395.7L1540.6,398.1L1543.1,400.3L1545.6,402.2L1548.1,403.9L1550.6,405.3L1553.1,406.5L1555.6,407.5L1558.1,408.3L1560.6,409.1L1563.1,409.8L1565.6,410.4L1568.1,410.9L1570.6,411.4L1573.1,411.9L1575.6,412.4L1578.1,412.8L1580.6,413.3L1583.1,413.7L1585.6,414.1L1588.1,414.5L1590.6,414.9L1593.1,415.3L1595.6,415.8L1598.1,416.2L1600.6,416.6L1603.1,417.1L1605.6,417.6L1608.1,418.1L1610.6,418.6L1613.1,419.1L1615.6,419.7L1618.1,420.3L1620.6,420.8L1623.1,421.4L1625.6,421.9L1628.1,422.3L1630.6,422.8L1633.1,423.1L1635.6,423.4L1638.1,423.7L1640.6,423.9L1643.1,424.0L1645.6,424.1L1648.1,424.2L1650.6,424.2L1653.1,424.3L1655.6,424.4L1667.6,424.4L1679.6,424.4L1691.6,424.4L1703.6,424.4L1715.6,424.4L1727.6,424.4L1739.6,424.4L1751.6,424.4L1763.6,424.4L1775.6,424.4L1787.6,424.4L1799.6,424.4L1811.6,424.4L1823.6,424.4L1835.6,424.4L1847.6,424.4L1859.6,424.4L1871.6,424.4L1883.6,424.4L1895.6,424.4L1907.6,424.4L1919.6,424.4L1931.6,424.4L1943.6,424.4L1955.6,424.4L1967.6,424.4L1976.6,424.4" fill="none" stroke="#fff" stroke-opacity="0.95" stroke-width="4.4" stroke-linejoin="round"/>
<line x1="1107.1" y1="424.4" x2="1976.6" y2="424.4" stroke="#b0caf0" stroke-width="2.3"/>
<path d="M1107.1,424.4L1119.1,424.4L1131.1,424.4L1143.1,424.4L1145.6,424.3L1148.1,424.3L1150.6,424.3L1153.1,424.3L1155.6,424.3L1158.1,424.3L1160.6,424.3L1163.1,424.3L1165.6,424.2L1168.1,424.2L1170.6,424.2L1173.1,424.2L1175.6,424.2L1178.1,424.2L1180.6,424.2L1183.1,424.2L1185.6,424.2L1188.1,424.2L1190.6,424.2L1193.1,424.2L1195.6,424.2L1198.1,424.2L1200.6,424.2L1203.1,424.1L1205.6,424.1L1208.1,424.1L1210.6,424.1L1213.1,424.1L1215.6,424.1L1218.1,424.1L1220.6,424.1L1223.1,424.0L1225.6,423.9L1228.1,423.8L1230.6,423.7L1233.1,423.7L1235.6,423.6L1238.1,423.4L1240.6,423.3L1243.1,423.1L1245.6,422.9L1248.1,422.6L1250.6,422.3L1253.1,422.0L1255.6,421.7L1258.1,421.3L1260.6,421.0L1263.1,420.8L1265.6,420.5L1268.1,420.3L1270.6,420.1L1273.1,419.9L1275.6,419.8L1278.1,419.7L1280.6,419.6L1283.1,419.5L1285.6,419.4L1288.1,419.4L1290.6,419.3L1293.1,419.3L1295.6,419.2L1298.1,419.2L1300.6,419.0L1303.1,418.9L1305.6,418.8L1308.1,418.6L1310.6,418.5L1313.1,418.3L1315.6,418.2L1318.1,418.0L1320.6,417.8L1323.1,417.5L1325.6,417.3L1328.1,417.0L1330.6,416.7L1333.1,416.4L1335.6,416.0L1338.1,415.6L1340.6,415.1L1343.1,414.7L1345.6,414.1L1348.1,413.6L1350.6,413.0L1353.1,412.3L1355.6,411.6L1358.1,410.8L1360.6,409.8L1363.1,408.8L1365.6,407.7L1368.1,406.4L1370.6,405.0L1373.1,403.4L1375.6,401.6L1378.1,399.7L1380.6,397.6L1383.1,395.5L1385.6,393.3L1388.1,391.0L1390.6,388.6L1393.1,386.0L1395.6,383.2L1398.1,380.2L1400.6,376.9L1403.1,373.5L1405.6,370.0L1408.1,366.5L1410.6,362.9L1413.1,359.2L1415.6,355.3L1418.1,351.3L1420.6,347.1L1423.1,342.8L1425.6,338.3L1428.1,333.6L1430.6,328.9L1433.1,324.2L1435.6,319.4L1438.1,314.8L1440.6,310.2L1443.1,305.8L1445.6,301.6L1448.1,297.7L1450.6,294.0L1453.1,290.7L1455.6,287.7L1458.1,285.1L1460.6,283.0L1463.1,281.4L1465.6,280.4L1468.1,280.0L1470.6,280.3L1473.1,281.1L1475.6,282.7L1478.1,284.8L1480.6,287.6L1483.1,291.0L1485.6,295.0L1488.1,299.7L1490.6,304.9L1493.1,310.6L1495.6,316.6L1498.1,322.8L1500.6,328.9L1503.1,334.9L1505.6,340.6L1508.1,346.2L1510.6,351.5L1513.1,356.7L1515.6,361.6L1518.1,366.4L1520.6,370.9L1523.1,375.2L1525.6,379.3L1528.1,383.1L1530.6,386.7L1533.1,390.0L1535.6,393.0L1538.1,395.7L1540.6,398.1L1543.1,400.3L1545.6,402.2L1548.1,403.9L1550.6,405.3L1553.1,406.5L1555.6,407.5L1558.1,408.3L1560.6,409.1L1563.1,409.8L1565.6,410.4L1568.1,410.9L1570.6,411.4L1573.1,411.9L1575.6,412.4L1578.1,412.8L1580.6,413.3L1583.1,413.7L1585.6,414.1L1588.1,414.5L1590.6,414.9L1593.1,415.3L1595.6,415.8L1598.1,416.2L1600.6,416.6L1603.1,417.1L1605.6,417.6L1608.1,418.1L1610.6,418.6L1613.1,419.1L1615.6,419.7L1618.1,420.3L1620.6,420.8L1623.1,421.4L1625.6,421.9L1628.1,422.3L1630.6,422.8L1633.1,423.1L1635.6,423.4L1638.1,423.7L1640.6,423.9L1643.1,424.0L1645.6,424.1L1648.1,424.2L1650.6,424.2L1653.1,424.3L1655.6,424.4L1667.6,424.4L1679.6,424.4L1691.6,424.4L1703.6,424.4L1715.6,424.4L1727.6,424.4L1739.6,424.4L1751.6,424.4L1763.6,424.4L1775.6,424.4L1787.6,424.4L1799.6,424.4L1811.6,424.4L1823.6,424.4L1835.6,424.4L1847.6,424.4L1859.6,424.4L1871.6,424.4L1883.6,424.4L1895.6,424.4L1907.6,424.4L1919.6,424.4L1931.6,424.4L1943.6,424.4L1955.6,424.4L1967.6,424.4L1976.6,424.4" fill="none" stroke="#22262c" stroke-width="2.0" stroke-linejoin="round"/>
<line x1="1107.1" y1="424.4" x2="1223.1" y2="424.4" stroke="#38465e" stroke-width="2.0"/>
<line x1="1643.1" y1="424.4" x2="1976.6" y2="424.4" stroke="#38465e" stroke-width="2.0"/>
</g>
<g id="b2c">
<path d="M1107.1,564.2L1119.1,564.2L1131.1,564.2L1143.1,564.2L1155.1,564.2L1167.1,564.2L1179.1,564.2L1191.1,564.2L1203.1,564.2L1215.1,564.2L1227.1,564.2L1239.1,564.2L1251.1,564.2L1263.1,564.2L1265.6,564.1L1268.1,564.0L1270.6,564.0L1273.1,563.9L1275.6,563.9L1278.1,563.8L1280.6,563.7L1283.1,563.6L1285.6,563.4L1288.1,563.3L1290.6,563.2L1293.1,563.0L1295.6,562.8L1298.1,562.5L1300.6,562.2L1303.1,561.9L1305.6,561.5L1308.1,561.1L1310.6,560.7L1313.1,560.4L1315.6,559.9L1318.1,559.5L1320.6,559.1L1323.1,558.6L1325.6,558.2L1328.1,557.8L1330.6,557.3L1333.1,556.9L1335.6,556.6L1338.1,556.2L1340.6,555.8L1343.1,555.5L1345.6,555.1L1348.1,554.8L1350.6,554.4L1353.1,554.1L1355.6,553.7L1358.1,553.3L1360.6,552.9L1363.1,552.4L1365.6,551.9L1368.1,551.3L1370.6,550.6L1373.1,549.8L1375.6,548.8L1378.1,547.6L1380.6,546.2L1383.1,544.6L1385.6,542.6L1388.1,540.5L1390.6,538.1L1393.1,535.5L1395.6,532.6L1398.1,529.7L1400.6,526.4L1403.1,523.0L1405.6,519.3L1408.1,515.4L1410.6,511.4L1413.1,507.3L1415.6,503.1L1418.1,498.8L1420.6,494.5L1423.1,490.2L1425.6,486.0L1428.1,481.7L1430.6,477.5L1433.1,473.4L1435.6,469.3L1438.1,465.4L1440.6,461.7L1443.1,458.1L1445.6,454.8L1448.1,451.7L1450.6,449.0L1453.1,446.5L1455.6,444.5L1458.1,442.8L1460.6,441.4L1463.1,440.5L1465.6,440.0L1468.1,439.9L1470.6,440.2L1473.1,441.0L1475.6,442.2L1478.1,443.8L1480.6,445.9L1483.1,448.2L1485.6,450.9L1488.1,453.8L1490.6,457.0L1493.1,460.3L1495.6,463.8L1498.1,467.4L1500.6,471.1L1503.1,474.9L1505.6,478.6L1508.1,482.3L1510.6,485.9L1513.1,489.4L1515.6,492.7L1518.1,496.1L1520.6,499.3L1523.1,502.5L1525.6,505.4L1528.1,507.9L1530.6,510.2L1533.1,512.3L1535.6,514.3L1538.1,516.3L1540.6,518.3L1543.1,520.2L1545.6,522.1L1548.1,523.9L1550.6,525.6L1553.1,527.2L1555.6,528.7L1558.1,530.2L1560.6,531.6L1563.1,532.9L1565.6,534.2L1568.1,535.4L1570.6,536.5L1573.1,537.6L1575.6,538.6L1578.1,539.5L1580.6,540.4L1583.1,541.3L1585.6,542.1L1588.1,542.8L1590.6,543.6L1593.1,544.4L1595.6,545.1L1598.1,545.9L1600.6,546.7L1603.1,547.5L1605.6,548.3L1608.1,549.1L1610.6,549.9L1613.1,550.7L1615.6,551.4L1618.1,552.2L1620.6,553.0L1623.1,553.8L1625.6,554.6L1628.1,555.4L1630.6,556.2L1633.1,557.0L1635.6,557.8L1638.1,558.5L1640.6,559.2L1643.1,559.9L1645.6,560.5L1648.1,561.0L1650.6,561.5L1653.1,561.9L1655.6,562.3L1658.1,562.6L1660.6,562.9L1663.1,563.2L1665.6,563.4L1668.1,563.5L1670.6,563.6L1673.1,563.7L1675.6,563.8L1678.1,563.9L1680.6,564.0L1683.1,564.1L1685.6,564.2L1697.6,564.2L1709.6,564.2L1721.6,564.2L1733.6,564.2L1745.6,564.2L1757.6,564.2L1769.6,564.2L1781.6,564.2L1793.6,564.2L1805.6,564.2L1817.6,564.2L1829.6,564.2L1841.6,564.2L1853.6,564.2L1865.6,564.2L1877.6,564.2L1889.6,564.2L1901.6,564.2L1913.6,564.2L1925.6,564.2L1937.6,564.2L1949.6,564.2L1961.6,564.2L1973.6,564.2L1976.6,564.2L1976.6,565.1L1107.1,565.1Z" fill="#facbb7" fill-opacity="0.60"/>
<path d="M1107.1,564.2L1119.1,564.2L1131.1,564.2L1143.1,564.2L1155.1,564.2L1167.1,564.2L1179.1,564.2L1191.1,564.2L1203.1,564.2L1215.1,564.2L1227.1,564.2L1239.1,564.2L1251.1,564.2L1263.1,564.2L1265.6,564.1L1268.1,564.0L1270.6,564.0L1273.1,563.9L1275.6,563.9L1278.1,563.8L1280.6,563.7L1283.1,563.6L1285.6,563.4L1288.1,563.3L1290.6,563.2L1293.1,563.0L1295.6,562.8L1298.1,562.5L1300.6,562.2L1303.1,561.9L1305.6,561.5L1308.1,561.1L1310.6,560.7L1313.1,560.4L1315.6,559.9L1318.1,559.5L1320.6,559.1L1323.1,558.6L1325.6,558.2L1328.1,557.8L1330.6,557.3L1333.1,556.9L1335.6,556.6L1338.1,556.2L1340.6,555.8L1343.1,555.5L1345.6,555.1L1348.1,554.8L1350.6,554.4L1353.1,554.1L1355.6,553.7L1358.1,553.3L1360.6,552.9L1363.1,552.4L1365.6,551.9L1368.1,551.3L1370.6,550.6L1373.1,549.8L1375.6,548.8L1378.1,547.6L1380.6,546.2L1383.1,544.6L1385.6,542.6L1388.1,540.5L1390.6,538.1L1393.1,535.5L1395.6,532.6L1398.1,529.7L1400.6,526.4L1403.1,523.0L1405.6,519.3L1408.1,515.4L1410.6,511.4L1413.1,507.3L1415.6,503.1L1418.1,498.8L1420.6,494.5L1423.1,490.2L1425.6,486.0L1428.1,481.7L1430.6,477.5L1433.1,473.4L1435.6,469.3L1438.1,465.4L1440.6,461.7L1443.1,458.1L1445.6,454.8L1448.1,451.7L1450.6,449.0L1453.1,446.5L1455.6,444.5L1458.1,442.8L1460.6,441.4L1463.1,440.5L1465.6,440.0L1468.1,439.9L1470.6,440.2L1473.1,441.0L1475.6,442.2L1478.1,443.8L1480.6,445.9L1483.1,448.2L1485.6,450.9L1488.1,453.8L1490.6,457.0L1493.1,460.3L1495.6,463.8L1498.1,467.4L1500.6,471.1L1503.1,474.9L1505.6,478.6L1508.1,482.3L1510.6,485.9L1513.1,489.4L1515.6,492.7L1518.1,496.1L1520.6,499.3L1523.1,502.5L1525.6,505.4L1528.1,507.9L1530.6,510.2L1533.1,512.3L1535.6,514.3L1538.1,516.3L1540.6,518.3L1543.1,520.2L1545.6,522.1L1548.1,523.9L1550.6,525.6L1553.1,527.2L1555.6,528.7L1558.1,530.2L1560.6,531.6L1563.1,532.9L1565.6,534.2L1568.1,535.4L1570.6,536.5L1573.1,537.6L1575.6,538.6L1578.1,539.5L1580.6,540.4L1583.1,541.3L1585.6,542.1L1588.1,542.8L1590.6,543.6L1593.1,544.4L1595.6,545.1L1598.1,545.9L1600.6,546.7L1603.1,547.5L1605.6,548.3L1608.1,549.1L1610.6,549.9L1613.1,550.7L1615.6,551.4L1618.1,552.2L1620.6,553.0L1623.1,553.8L1625.6,554.6L1628.1,555.4L1630.6,556.2L1633.1,557.0L1635.6,557.8L1638.1,558.5L1640.6,559.2L1643.1,559.9L1645.6,560.5L1648.1,561.0L1650.6,561.5L1653.1,561.9L1655.6,562.3L1658.1,562.6L1660.6,562.9L1663.1,563.2L1665.6,563.4L1668.1,563.5L1670.6,563.6L1673.1,563.7L1675.6,563.8L1678.1,563.9L1680.6,564.0L1683.1,564.1L1685.6,564.2L1697.6,564.2L1709.6,564.2L1721.6,564.2L1733.6,564.2L1745.6,564.2L1757.6,564.2L1769.6,564.2L1781.6,564.2L1793.6,564.2L1805.6,564.2L1817.6,564.2L1829.6,564.2L1841.6,564.2L1853.6,564.2L1865.6,564.2L1877.6,564.2L1889.6,564.2L1901.6,564.2L1913.6,564.2L1925.6,564.2L1937.6,564.2L1949.6,564.2L1961.6,564.2L1973.6,564.2L1976.6,564.2" fill="none" stroke="#fff" stroke-opacity="0.95" stroke-width="4.4" stroke-linejoin="round"/>
<line x1="1107.1" y1="564.2" x2="1976.6" y2="564.2" stroke="#f8c4ae" stroke-width="2.3"/>
<path d="M1107.1,564.2L1119.1,564.2L1131.1,564.2L1143.1,564.2L1155.1,564.2L1167.1,564.2L1179.1,564.2L1191.1,564.2L1203.1,564.2L1215.1,564.2L1227.1,564.2L1239.1,564.2L1251.1,564.2L1263.1,564.2L1265.6,564.1L1268.1,564.0L1270.6,564.0L1273.1,563.9L1275.6,563.9L1278.1,563.8L1280.6,563.7L1283.1,563.6L1285.6,563.4L1288.1,563.3L1290.6,563.2L1293.1,563.0L1295.6,562.8L1298.1,562.5L1300.6,562.2L1303.1,561.9L1305.6,561.5L1308.1,561.1L1310.6,560.7L1313.1,560.4L1315.6,559.9L1318.1,559.5L1320.6,559.1L1323.1,558.6L1325.6,558.2L1328.1,557.8L1330.6,557.3L1333.1,556.9L1335.6,556.6L1338.1,556.2L1340.6,555.8L1343.1,555.5L1345.6,555.1L1348.1,554.8L1350.6,554.4L1353.1,554.1L1355.6,553.7L1358.1,553.3L1360.6,552.9L1363.1,552.4L1365.6,551.9L1368.1,551.3L1370.6,550.6L1373.1,549.8L1375.6,548.8L1378.1,547.6L1380.6,546.2L1383.1,544.6L1385.6,542.6L1388.1,540.5L1390.6,538.1L1393.1,535.5L1395.6,532.6L1398.1,529.7L1400.6,526.4L1403.1,523.0L1405.6,519.3L1408.1,515.4L1410.6,511.4L1413.1,507.3L1415.6,503.1L1418.1,498.8L1420.6,494.5L1423.1,490.2L1425.6,486.0L1428.1,481.7L1430.6,477.5L1433.1,473.4L1435.6,469.3L1438.1,465.4L1440.6,461.7L1443.1,458.1L1445.6,454.8L1448.1,451.7L1450.6,449.0L1453.1,446.5L1455.6,444.5L1458.1,442.8L1460.6,441.4L1463.1,440.5L1465.6,440.0L1468.1,439.9L1470.6,440.2L1473.1,441.0L1475.6,442.2L1478.1,443.8L1480.6,445.9L1483.1,448.2L1485.6,450.9L1488.1,453.8L1490.6,457.0L1493.1,460.3L1495.6,463.8L1498.1,467.4L1500.6,471.1L1503.1,474.9L1505.6,478.6L1508.1,482.3L1510.6,485.9L1513.1,489.4L1515.6,492.7L1518.1,496.1L1520.6,499.3L1523.1,502.5L1525.6,505.4L1528.1,507.9L1530.6,510.2L1533.1,512.3L1535.6,514.3L1538.1,516.3L1540.6,518.3L1543.1,520.2L1545.6,522.1L1548.1,523.9L1550.6,525.6L1553.1,527.2L1555.6,528.7L1558.1,530.2L1560.6,531.6L1563.1,532.9L1565.6,534.2L1568.1,535.4L1570.6,536.5L1573.1,537.6L1575.6,538.6L1578.1,539.5L1580.6,540.4L1583.1,541.3L1585.6,542.1L1588.1,542.8L1590.6,543.6L1593.1,544.4L1595.6,545.1L1598.1,545.9L1600.6,546.7L1603.1,547.5L1605.6,548.3L1608.1,549.1L1610.6,549.9L1613.1,550.7L1615.6,551.4L1618.1,552.2L1620.6,553.0L1623.1,553.8L1625.6,554.6L1628.1,555.4L1630.6,556.2L1633.1,557.0L1635.6,557.8L1638.1,558.5L1640.6,559.2L1643.1,559.9L1645.6,560.5L1648.1,561.0L1650.6,561.5L1653.1,561.9L1655.6,562.3L1658.1,562.6L1660.6,562.9L1663.1,563.2L1665.6,563.4L1668.1,563.5L1670.6,563.6L1673.1,563.7L1675.6,563.8L1678.1,563.9L1680.6,564.0L1683.1,564.1L1685.6,564.2L1697.6,564.2L1709.6,564.2L1721.6,564.2L1733.6,564.2L1745.6,564.2L1757.6,564.2L1769.6,564.2L1781.6,564.2L1793.6,564.2L1805.6,564.2L1817.6,564.2L1829.6,564.2L1841.6,564.2L1853.6,564.2L1865.6,564.2L1877.6,564.2L1889.6,564.2L1901.6,564.2L1913.6,564.2L1925.6,564.2L1937.6,564.2L1949.6,564.2L1961.6,564.2L1973.6,564.2L1976.6,564.2" fill="none" stroke="#241c1a" stroke-width="2.0" stroke-linejoin="round"/>
<line x1="1107.1" y1="564.2" x2="1278.1" y2="564.2" stroke="#66483e" stroke-width="2.0"/>
<line x1="1675.6" y1="564.2" x2="1976.6" y2="564.2" stroke="#66483e" stroke-width="2.0"/>
</g>
<g id="c1">
<path d="M1107.1,703.9L1119.1,703.9L1131.1,703.9L1143.1,703.9L1155.1,703.9L1167.1,703.9L1179.1,703.9L1191.1,703.9L1203.1,703.9L1215.1,703.9L1227.1,703.9L1239.1,703.9L1251.1,703.9L1263.1,703.9L1275.1,703.9L1287.1,703.9L1299.1,703.9L1301.6,703.8L1304.1,703.8L1306.6,703.8L1309.1,703.8L1311.6,703.8L1314.1,703.8L1316.6,703.8L1319.1,703.8L1321.6,703.7L1324.1,703.7L1326.6,703.7L1329.1,703.7L1331.6,703.7L1334.1,703.7L1336.6,703.7L1339.1,703.7L1341.6,703.6L1344.1,703.6L1346.6,703.5L1349.1,703.4L1351.6,703.3L1354.1,703.1L1356.6,703.0L1359.1,702.7L1361.6,702.4L1364.1,702.1L1366.6,701.7L1369.1,701.3L1371.6,700.8L1374.1,700.2L1376.6,699.5L1379.1,698.8L1381.6,697.9L1384.1,697.0L1386.6,695.8L1389.1,694.6L1391.6,693.1L1394.1,691.5L1396.6,689.8L1399.1,687.8L1401.6,685.7L1404.1,683.4L1406.6,681.0L1409.1,678.3L1411.6,675.5L1414.1,672.6L1416.6,669.5L1419.1,666.2L1421.6,662.6L1424.1,658.6L1426.6,654.3L1429.1,649.3L1431.6,643.8L1434.1,637.7L1436.6,631.2L1439.1,624.7L1441.6,618.3L1444.1,611.9L1446.6,605.6L1449.1,599.5L1451.6,593.7L1454.1,588.3L1456.6,583.2L1459.1,578.5L1461.6,574.4L1464.1,570.8L1466.6,567.9L1469.1,565.5L1471.6,563.8L1474.1,562.6L1476.6,561.8L1479.1,561.4L1481.6,561.3L1484.1,561.5L1486.6,562.2L1489.1,563.4L1491.6,565.2L1494.1,567.5L1496.6,570.2L1499.1,573.3L1501.6,576.7L1504.1,580.3L1506.6,584.0L1509.1,587.8L1511.6,591.5L1514.1,595.1L1516.6,598.7L1519.1,602.2L1521.6,605.6L1524.1,609.1L1526.6,612.5L1529.1,615.7L1531.6,618.8L1534.1,621.8L1536.6,624.7L1539.1,627.6L1541.6,630.6L1544.1,633.6L1546.6,636.6L1549.1,639.6L1551.6,642.8L1554.1,645.9L1556.6,649.2L1559.1,652.5L1561.6,655.9L1564.1,659.3L1566.6,662.7L1569.1,666.1L1571.6,669.4L1574.1,672.6L1576.6,675.8L1579.1,678.8L1581.6,681.8L1584.1,684.5L1586.6,687.1L1589.1,689.3L1591.6,691.3L1594.1,693.0L1596.6,694.3L1599.1,695.3L1601.6,696.1L1604.1,696.9L1606.6,697.5L1609.1,697.9L1611.6,698.1L1614.1,698.3L1616.6,698.2L1619.1,698.1L1621.6,697.9L1624.1,697.7L1626.6,697.4L1629.1,697.0L1631.6,696.8L1634.1,696.5L1636.6,696.4L1639.1,696.3L1641.6,696.4L1644.1,696.5L1646.6,696.8L1649.1,697.1L1651.6,697.5L1654.1,698.1L1656.6,698.6L1659.1,699.2L1661.6,699.8L1664.1,700.4L1666.6,700.9L1669.1,701.5L1671.6,702.0L1674.1,702.5L1676.6,702.8L1679.1,703.1L1681.6,703.4L1684.1,703.6L1686.6,703.7L1689.1,703.9L1701.1,703.9L1713.1,703.9L1725.1,703.9L1737.1,703.9L1749.1,703.9L1761.1,703.9L1773.1,703.9L1785.1,703.9L1797.1,703.9L1809.1,703.9L1821.1,703.9L1833.1,703.9L1845.1,703.9L1857.1,703.9L1869.1,703.9L1881.1,703.9L1893.1,703.9L1905.1,703.9L1917.1,703.9L1929.1,703.9L1941.1,703.9L1953.1,703.9L1965.1,703.9L1976.7,703.9L1976.7,704.8L1107.1,704.8Z" fill="#fa8064" fill-opacity="0.60"/>
<path d="M1107.1,703.9L1119.1,703.9L1131.1,703.9L1143.1,703.9L1155.1,703.9L1167.1,703.9L1179.1,703.9L1191.1,703.9L1203.1,703.9L1215.1,703.9L1227.1,703.9L1239.1,703.9L1251.1,703.9L1263.1,703.9L1275.1,703.9L1287.1,703.9L1299.1,703.9L1301.6,703.8L1304.1,703.8L1306.6,703.8L1309.1,703.8L1311.6,703.8L1314.1,703.8L1316.6,703.8L1319.1,703.8L1321.6,703.7L1324.1,703.7L1326.6,703.7L1329.1,703.7L1331.6,703.7L1334.1,703.7L1336.6,703.7L1339.1,703.7L1341.6,703.6L1344.1,703.6L1346.6,703.5L1349.1,703.4L1351.6,703.3L1354.1,703.1L1356.6,703.0L1359.1,702.7L1361.6,702.4L1364.1,702.1L1366.6,701.7L1369.1,701.3L1371.6,700.8L1374.1,700.2L1376.6,699.5L1379.1,698.8L1381.6,697.9L1384.1,697.0L1386.6,695.8L1389.1,694.6L1391.6,693.1L1394.1,691.5L1396.6,689.8L1399.1,687.8L1401.6,685.7L1404.1,683.4L1406.6,681.0L1409.1,678.3L1411.6,675.5L1414.1,672.6L1416.6,669.5L1419.1,666.2L1421.6,662.6L1424.1,658.6L1426.6,654.3L1429.1,649.3L1431.6,643.8L1434.1,637.7L1436.6,631.2L1439.1,624.7L1441.6,618.3L1444.1,611.9L1446.6,605.6L1449.1,599.5L1451.6,593.7L1454.1,588.3L1456.6,583.2L1459.1,578.5L1461.6,574.4L1464.1,570.8L1466.6,567.9L1469.1,565.5L1471.6,563.8L1474.1,562.6L1476.6,561.8L1479.1,561.4L1481.6,561.3L1484.1,561.5L1486.6,562.2L1489.1,563.4L1491.6,565.2L1494.1,567.5L1496.6,570.2L1499.1,573.3L1501.6,576.7L1504.1,580.3L1506.6,584.0L1509.1,587.8L1511.6,591.5L1514.1,595.1L1516.6,598.7L1519.1,602.2L1521.6,605.6L1524.1,609.1L1526.6,612.5L1529.1,615.7L1531.6,618.8L1534.1,621.8L1536.6,624.7L1539.1,627.6L1541.6,630.6L1544.1,633.6L1546.6,636.6L1549.1,639.6L1551.6,642.8L1554.1,645.9L1556.6,649.2L1559.1,652.5L1561.6,655.9L1564.1,659.3L1566.6,662.7L1569.1,666.1L1571.6,669.4L1574.1,672.6L1576.6,675.8L1579.1,678.8L1581.6,681.8L1584.1,684.5L1586.6,687.1L1589.1,689.3L1591.6,691.3L1594.1,693.0L1596.6,694.3L1599.1,695.3L1601.6,696.1L1604.1,696.9L1606.6,697.5L1609.1,697.9L1611.6,698.1L1614.1,698.3L1616.6,698.2L1619.1,698.1L1621.6,697.9L1624.1,697.7L1626.6,697.4L1629.1,697.0L1631.6,696.8L1634.1,696.5L1636.6,696.4L1639.1,696.3L1641.6,696.4L1644.1,696.5L1646.6,696.8L1649.1,697.1L1651.6,697.5L1654.1,698.1L1656.6,698.6L1659.1,699.2L1661.6,699.8L1664.1,700.4L1666.6,700.9L1669.1,701.5L1671.6,702.0L1674.1,702.5L1676.6,702.8L1679.1,703.1L1681.6,703.4L1684.1,703.6L1686.6,703.7L1689.1,703.9L1701.1,703.9L1713.1,703.9L1725.1,703.9L1737.1,703.9L1749.1,703.9L1761.1,703.9L1773.1,703.9L1785.1,703.9L1797.1,703.9L1809.1,703.9L1821.1,703.9L1833.1,703.9L1845.1,703.9L1857.1,703.9L1869.1,703.9L1881.1,703.9L1893.1,703.9L1905.1,703.9L1917.1,703.9L1929.1,703.9L1941.1,703.9L1953.1,703.9L1965.1,703.9L1976.7,703.9" fill="none" stroke="#fff" stroke-opacity="0.80" stroke-width="4.4" stroke-linejoin="round"/>
<line x1="1107.1" y1="703.9" x2="1976.7" y2="703.9" stroke="#f47c60" stroke-width="2.3"/>
<path d="M1107.1,703.9L1119.1,703.9L1131.1,703.9L1143.1,703.9L1155.1,703.9L1167.1,703.9L1179.1,703.9L1191.1,703.9L1203.1,703.9L1215.1,703.9L1227.1,703.9L1239.1,703.9L1251.1,703.9L1263.1,703.9L1275.1,703.9L1287.1,703.9L1299.1,703.9L1301.6,703.8L1304.1,703.8L1306.6,703.8L1309.1,703.8L1311.6,703.8L1314.1,703.8L1316.6,703.8L1319.1,703.8L1321.6,703.7L1324.1,703.7L1326.6,703.7L1329.1,703.7L1331.6,703.7L1334.1,703.7L1336.6,703.7L1339.1,703.7L1341.6,703.6L1344.1,703.6L1346.6,703.5L1349.1,703.4L1351.6,703.3L1354.1,703.1L1356.6,703.0L1359.1,702.7L1361.6,702.4L1364.1,702.1L1366.6,701.7L1369.1,701.3L1371.6,700.8L1374.1,700.2L1376.6,699.5L1379.1,698.8L1381.6,697.9L1384.1,697.0L1386.6,695.8L1389.1,694.6L1391.6,693.1L1394.1,691.5L1396.6,689.8L1399.1,687.8L1401.6,685.7L1404.1,683.4L1406.6,681.0L1409.1,678.3L1411.6,675.5L1414.1,672.6L1416.6,669.5L1419.1,666.2L1421.6,662.6L1424.1,658.6L1426.6,654.3L1429.1,649.3L1431.6,643.8L1434.1,637.7L1436.6,631.2L1439.1,624.7L1441.6,618.3L1444.1,611.9L1446.6,605.6L1449.1,599.5L1451.6,593.7L1454.1,588.3L1456.6,583.2L1459.1,578.5L1461.6,574.4L1464.1,570.8L1466.6,567.9L1469.1,565.5L1471.6,563.8L1474.1,562.6L1476.6,561.8L1479.1,561.4L1481.6,561.3L1484.1,561.5L1486.6,562.2L1489.1,563.4L1491.6,565.2L1494.1,567.5L1496.6,570.2L1499.1,573.3L1501.6,576.7L1504.1,580.3L1506.6,584.0L1509.1,587.8L1511.6,591.5L1514.1,595.1L1516.6,598.7L1519.1,602.2L1521.6,605.6L1524.1,609.1L1526.6,612.5L1529.1,615.7L1531.6,618.8L1534.1,621.8L1536.6,624.7L1539.1,627.6L1541.6,630.6L1544.1,633.6L1546.6,636.6L1549.1,639.6L1551.6,642.8L1554.1,645.9L1556.6,649.2L1559.1,652.5L1561.6,655.9L1564.1,659.3L1566.6,662.7L1569.1,666.1L1571.6,669.4L1574.1,672.6L1576.6,675.8L1579.1,678.8L1581.6,681.8L1584.1,684.5L1586.6,687.1L1589.1,689.3L1591.6,691.3L1594.1,693.0L1596.6,694.3L1599.1,695.3L1601.6,696.1L1604.1,696.9L1606.6,697.5L1609.1,697.9L1611.6,698.1L1614.1,698.3L1616.6,698.2L1619.1,698.1L1621.6,697.9L1624.1,697.7L1626.6,697.4L1629.1,697.0L1631.6,696.8L1634.1,696.5L1636.6,696.4L1639.1,696.3L1641.6,696.4L1644.1,696.5L1646.6,696.8L1649.1,697.1L1651.6,697.5L1654.1,698.1L1656.6,698.6L1659.1,699.2L1661.6,699.8L1664.1,700.4L1666.6,700.9L1669.1,701.5L1671.6,702.0L1674.1,702.5L1676.6,702.8L1679.1,703.1L1681.6,703.4L1684.1,703.6L1686.6,703.7L1689.1,703.9L1701.1,703.9L1713.1,703.9L1725.1,703.9L1737.1,703.9L1749.1,703.9L1761.1,703.9L1773.1,703.9L1785.1,703.9L1797.1,703.9L1809.1,703.9L1821.1,703.9L1833.1,703.9L1845.1,703.9L1857.1,703.9L1869.1,703.9L1881.1,703.9L1893.1,703.9L1905.1,703.9L1917.1,703.9L1929.1,703.9L1941.1,703.9L1953.1,703.9L1965.1,703.9L1976.7,703.9" fill="none" stroke="#220e0a" stroke-width="2.0" stroke-linejoin="round"/>
<line x1="1107.1" y1="703.9" x2="1346.6" y2="703.9" stroke="#74281a" stroke-width="2.0"/>
<line x1="1684.1" y1="703.9" x2="1976.7" y2="703.9" stroke="#74281a" stroke-width="2.0"/>
</g>
<line x1="62.8" y1="701.3" x2="899.0" y2="701.3" stroke="#111" stroke-width="1.7"/><line x1="191.4" y1="704.6" x2="191.4" y2="708.8" stroke="#2a2a2a" stroke-width="1.6"/><line x1="329.2" y1="704.6" x2="329.2" y2="708.8" stroke="#2a2a2a" stroke-width="1.6"/><line x1="467.0" y1="704.6" x2="467.0" y2="708.8" stroke="#2a2a2a" stroke-width="1.6"/><line x1="604.3" y1="704.6" x2="604.3" y2="708.8" stroke="#2a2a2a" stroke-width="1.6"/><line x1="741.6" y1="704.6" x2="741.6" y2="708.8" stroke="#2a2a2a" stroke-width="1.6"/><line x1="879.2" y1="704.6" x2="879.2" y2="708.8" stroke="#2a2a2a" stroke-width="1.6"/>
<line x1="1105.9" y1="723.2" x2="1977.1" y2="723.2" stroke="#111" stroke-width="1.7"/><line x1="1238.3" y1="727.8" x2="1238.3" y2="733.0" stroke="#2a2a2a" stroke-width="1.6"/><line x1="1382.5" y1="727.8" x2="1382.5" y2="733.0" stroke="#2a2a2a" stroke-width="1.6"/><line x1="1525.6" y1="727.8" x2="1525.6" y2="733.0" stroke="#2a2a2a" stroke-width="1.6"/><line x1="1668.8" y1="727.8" x2="1668.8" y2="733.0" stroke="#2a2a2a" stroke-width="1.6"/><line x1="1812.4" y1="727.8" x2="1812.4" y2="733.0" stroke="#2a2a2a" stroke-width="1.6"/><line x1="1956.2" y1="727.8" x2="1956.2" y2="733.0" stroke="#2a2a2a" stroke-width="1.6"/>
<text transform="translate(506.5,51.3) scale(0.832,1)" font-size="33.3" id="t_a">Percentage of observation &gt; -18‰</text>
<text transform="translate(1567.7,43.5) scale(0.861,1)" font-size="33.3" id="t_b">Percentage of observation &gt; -18‰</text>
<text transform="translate(520.4,264.9) scale(0.853,1)" font-size="35.0" id="p34">3.4%</text>
<text transform="translate(532.2,568.0) scale(0.853,1)" font-size="35.0" id="p132">13.2%</text>
<text transform="translate(1572.2,107.1) scale(0.824,1)" font-size="35.0" id="p47">4.7%</text>
<text transform="translate(1574.2,245.9) scale(0.813,1)" font-size="35.0" id="p26">2.6%</text>
<text transform="translate(1577.8,391.3) scale(0.836,1)" font-size="35.0" id="p64">6.4%</text>
<text transform="translate(1603.0,524.6) scale(0.826,1)" font-size="35.0" id="p185">18.5%</text>
<text transform="translate(1622.4,674.6) scale(0.823,1)" font-size="35.0" id="p211">21.1%</text>
<text transform="translate(1017.0,130.0) scale(0.970,1)" font-size="31.0" id="l_b1">LT B1</text>
<text transform="translate(1016.8,267.6) scale(0.990,1)" font-size="31.0" id="l_b2a">LT B2a</text>
<text transform="translate(1019.8,411.3) scale(0.995,1)" font-size="31.0" id="l_b2b">LT B2b</text>
<text transform="translate(1019.8,546.3) scale(0.992,1)" font-size="31.0" id="l_b2c">LT B2b-C1</text>
<text transform="translate(1023.6,685.8) scale(0.975,1)" font-size="31.0" id="l_c1">LT C1</text>
<text transform="translate(154.1,740.2) scale(1.050,1)" font-size="28.6" id="ta22">-22</text>
<text transform="translate(297.1,740.2) scale(1.050,1)" font-size="28.6" id="ta20">-20</text>
<text transform="translate(436.6,740.2) scale(1.050,1)" font-size="28.6" id="ta18">-18</text>
<text transform="translate(576.6,740.2) scale(1.050,1)" font-size="28.6" id="ta16">-16</text>
<text transform="translate(725.4,740.2) scale(1.050,1)" font-size="28.6" id="ta14">-14</text>
<text transform="translate(865.1,740.2) scale(1.050,1)" font-size="28.6" id="ta12">-12</text>
<text transform="translate(1213.6,766.4) scale(1.050,1)" font-size="30.0" id="tb22">-22</text>
<text transform="translate(1355.9,766.4) scale(1.050,1)" font-size="30.0" id="tb20">-20</text>
<text transform="translate(1496.1,766.4) scale(1.050,1)" font-size="30.0" id="tb18">-18</text>
<text transform="translate(1644.2,766.4) scale(1.050,1)" font-size="30.0" id="tb16">-16</text>
<text transform="translate(1783.7,766.4) scale(1.050,1)" font-size="30.0" id="tb14">-14</text>
<text transform="translate(1931.4,766.4) scale(1.050,1)" font-size="30.0" id="tb12">-12</text>
<text transform="translate(0.4,794.6) scale(0.790,1)" font-size="51.0" id="pa">a</text>
<text transform="translate(989.8,802.6) scale(0.850,1)" font-size="46.0" id="pb">b</text>
<text id="l4" transform="translate(29.3,347.8)" font-size="27.2">4<tspan font-size="16" dy="-8.9">th</tspan></text>
<text id="l3" transform="translate(29.1,665)" font-size="27.2">3<tspan font-size="16" dy="-9.1">rd</tspan></text>
<text transform="translate(358.4,784.6) scale(1.030,1)" font-size="29.5" id="xa_d">δ</text>
<text transform="translate(375.6,770.4) scale(0.900,1)" font-size="20.0" id="xa_s">13</text>
<text transform="translate(392.0,784.6) scale(1.066,1)" font-size="29.5" id="xa_c">C (‰)</text>
<text transform="translate(482.4,784.6) scale(1.045,1)" font-size="29.5" id="xa_v">(VPDB)</text>
<text transform="translate(1404.6,801.6) scale(1.030,1)" font-size="29.5" id="xb_d">δ</text>
<text transform="translate(1421.8,787.4) scale(0.900,1)" font-size="20.0" id="xb_s">13</text>
<text transform="translate(1438.2,801.6) scale(1.066,1)" font-size="29.5" id="xb_c">C (‰)</text>
<text transform="translate(1528.6,801.6) scale(1.045,1)" font-size="29.5" id="xb_v">(VPDB)</text>
</svg></body></html>
